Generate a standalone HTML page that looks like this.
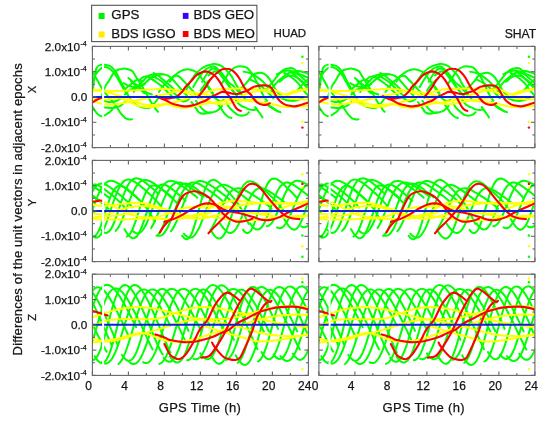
<!DOCTYPE html><html><head><meta charset="utf-8"><style>html,body{margin:0;padding:0;background:#fff;}svg{display:block}svg text{fill:#151515;stroke:#151515;stroke-width:0.25px}</style></head><body>
<svg width="550" height="423" viewBox="0 0 550 423">
<rect width="550" height="423" fill="#fff"/>
<defs>
<g id="row0">
<g fill="none" stroke="#00ff00" stroke-width="2.0" stroke-linecap="round" stroke-linejoin="round"><path d="M0.5,44.0C0.7,41.7 1.5,34.2 2.2,30.4C2.8,26.6 3.3,23.2 4.3,21.3C5.3,19.3 6.5,18.9 8.1,18.5C9.7,18.0 12.0,18.2 13.8,18.5C15.5,18.8 17.1,19.3 18.5,20.2C20.0,21.2 21.2,22.6 22.3,24.0C23.4,25.5 24.3,27.1 25.2,28.8C26.1,30.6 27.0,32.7 27.9,34.4C28.8,36.1 29.7,37.6 30.6,39.2C31.5,40.8 32.4,42.3 33.3,44.0C34.2,45.7 35.0,47.5 36.0,49.3C37.0,51.2 38.4,53.7 39.6,55.2C40.8,56.6 41.7,57.0 43.2,57.9C44.7,58.9 46.6,60.1 48.6,60.7C50.6,61.4 53.1,61.7 54.9,61.7C56.7,61.7 58.6,60.9 59.4,60.7"/><path d="M0.0,36.7C0.4,35.4 1.5,31.3 2.7,29.1C3.9,26.9 5.7,24.7 7.2,23.3C8.7,21.9 10.2,21.0 11.7,20.7C13.2,20.5 14.7,21.0 16.2,21.8C17.7,22.5 19.3,23.9 20.7,25.3C22.1,26.7 23.1,28.5 24.3,30.4C25.5,32.3 26.7,34.6 27.9,36.7C29.1,38.8 30.3,41.1 31.5,43.0C32.7,44.9 34.5,47.2 35.1,48.1"/><path d="M0.0,24.8C0.1,25.0 -0.3,24.5 0.5,26.1C1.4,27.7 3.9,31.9 5.3,34.4C6.7,36.9 7.5,38.6 9.0,41.0C10.5,43.3 12.6,46.3 14.4,48.6C16.2,50.8 18.3,52.6 19.8,54.4C21.3,56.2 22.2,57.7 23.4,59.5C24.6,61.2 26.0,63.2 27.0,64.8C28.0,66.3 28.6,67.4 29.7,68.6C30.7,69.7 32.0,71.1 33.3,71.9C34.6,72.6 36.3,72.9 37.4,73.1C38.4,73.3 39.2,72.9 39.6,72.9"/><path d="M9.0,50.6C9.6,48.9 11.5,42.9 12.8,40.2C14.0,37.5 15.3,36.5 16.6,34.4C17.8,32.3 19.1,29.6 20.4,27.8C21.7,26.1 23.1,24.9 24.3,24.0C25.5,23.2 26.4,23.1 27.9,22.8C29.4,22.5 31.6,22.0 33.6,22.3C35.5,22.6 38.3,23.8 39.6,24.5C40.9,25.3 40.5,25.5 41.4,26.8C42.3,28.2 43.9,30.9 45.0,32.6C46.1,34.4 46.8,35.3 48.0,37.2C49.2,39.1 50.7,41.8 52.2,44.3C53.7,46.8 55.5,50.0 56.7,52.1C57.9,54.2 58.5,55.5 59.4,56.9C60.3,58.4 61.4,59.6 62.1,60.7C62.9,61.8 63.3,62.7 63.9,63.5C64.5,64.3 65.4,65.0 65.7,65.3"/><path d="M0.0,60.0C0.4,60.7 1.8,63.2 2.7,64.5C3.6,65.8 4.3,66.9 5.4,67.8C6.4,68.7 7.8,69.7 9.0,69.8C10.2,70.0 11.5,69.3 12.6,68.8C13.6,68.4 14.5,67.6 15.3,67.0C16.1,66.5 16.7,66.4 17.6,65.5C18.4,64.7 19.6,63.2 20.7,62.0C21.8,60.8 23.7,58.8 24.3,58.2"/><path d="M11.7,61.0C12.8,61.1 16.1,61.5 18.0,61.5C19.9,61.5 21.8,61.3 23.4,61.0C25.1,60.6 26.4,60.3 27.9,59.5C29.4,58.6 31.6,56.3 32.4,55.7"/><path d="M11.7,54.4C12.8,54.6 15.9,55.7 18.0,55.7C20.1,55.7 22.5,55.0 24.3,54.4C26.1,53.8 28.1,52.3 28.8,51.9"/><path d="M32.4,43.0C33.1,42.4 35.4,40.5 36.9,39.2C38.4,38.0 40.0,36.4 41.4,35.4C42.8,34.5 43.6,33.5 45.0,33.4C46.4,33.3 49.0,34.7 49.9,34.9"/><path d="M41.4,45.5C42.0,44.7 43.6,42.2 45.0,40.5C46.4,38.8 48.3,37.1 49.9,35.4C51.5,33.8 53.0,31.8 54.6,30.6C56.2,29.4 57.7,28.8 59.4,28.3C61.1,27.9 62.9,27.9 64.8,27.8C66.7,27.7 68.9,27.6 70.7,27.8C72.5,28.1 74.0,28.5 75.6,29.3C77.2,30.2 78.6,31.5 80.1,32.9C81.6,34.3 82.9,36.1 84.6,38.0C86.2,39.8 88.3,42.4 90.0,44.3C91.7,46.2 93.8,48.5 94.5,49.3"/><path d="M47.7,32.9C48.6,32.4 51.2,29.9 53.1,29.9C55.0,29.8 57.4,31.5 59.4,32.6C61.3,33.7 63.3,35.3 64.8,36.4C66.3,37.5 66.9,37.9 68.4,39.2C69.9,40.5 72.0,42.6 73.8,44.3C75.6,46.0 78.3,48.5 79.2,49.3"/><path d="M54.0,30.4C54.8,30.1 56.8,28.9 58.5,29.1C60.1,29.3 62.0,30.6 63.9,31.6C65.8,32.7 68.2,34.2 69.8,35.4C71.5,36.7 72.2,37.7 73.8,39.2C75.4,40.7 77.4,42.6 79.2,44.3C81.0,46.0 83.7,48.5 84.6,49.3"/><path d="M38.7,34.9C39.5,35.6 41.7,37.9 43.2,39.2C44.7,40.6 46.2,41.7 47.7,43.0C49.2,44.3 51.5,46.2 52.2,46.8"/><path d="M32.4,48.1C33.3,47.3 35.9,44.4 37.8,43.3C39.8,42.1 41.9,42.1 44.1,41.2C46.3,40.4 48.7,39.4 50.9,38.0C53.2,36.5 55.4,33.9 57.6,32.4C59.8,30.9 62.1,29.8 63.9,29.1C65.7,28.4 67.6,28.5 68.4,28.3"/><path d="M61.2,26.6C61.9,27.0 64.2,28.0 65.7,29.1C67.2,30.1 68.7,31.6 70.2,32.9C71.7,34.2 73.2,35.4 74.7,36.7C76.2,38.0 77.7,39.1 79.2,40.5C80.7,41.9 83.0,44.3 83.7,45.0"/><path d="M31.5,36.7C32.2,37.1 34.4,38.6 36.0,39.2C37.6,39.8 39.6,40.4 41.4,40.5C43.2,40.6 45.0,40.4 46.8,40.0C48.6,39.6 51.3,38.3 52.2,38.0"/><path d="M36.0,31.6C36.8,32.3 39.0,34.2 40.5,35.4C42.0,36.7 43.5,38.0 45.0,39.2C46.5,40.5 48.0,41.9 49.5,43.0C51.0,44.1 52.4,45.2 54.0,46.0C55.6,46.9 58.5,47.7 59.4,48.1"/><path d="M66.6,45.5C67.2,44.7 68.8,42.2 70.2,40.5C71.6,38.8 73.1,37.1 74.7,35.4C76.4,33.8 78.4,32.0 80.1,30.6C81.8,29.2 83.4,27.9 85.0,26.8C86.7,25.7 88.3,24.7 90.0,24.0C91.7,23.4 93.4,22.7 95.4,22.8C97.3,22.9 99.9,23.7 101.7,24.5C103.5,25.4 104.9,26.5 106.2,27.8C107.5,29.2 108.6,31.1 109.8,32.6C111.0,34.2 112.2,35.5 113.4,37.2C114.6,38.9 115.8,41.2 117.0,43.0C118.2,44.8 120.0,47.2 120.6,48.1"/><path d="M77.4,35.4C78.0,34.6 79.6,31.3 81.0,30.4C82.4,29.4 84.3,28.9 86.0,29.6C87.6,30.3 89.5,33.0 90.9,34.4C92.3,35.8 93.2,36.8 94.5,38.2C95.8,39.6 97.5,41.4 99.0,43.0C100.5,44.7 102.8,47.2 103.5,48.1"/><path d="M92.7,45.5C93.5,44.1 95.9,39.1 97.2,36.7C98.5,34.2 99.7,32.5 100.8,30.9C101.9,29.2 102.6,28.3 104.0,26.8C105.3,25.4 107.3,23.4 108.9,22.3C110.5,21.1 111.8,20.5 113.4,19.7C115.1,19.0 117.1,18.3 118.8,18.0C120.4,17.6 121.8,17.3 123.3,17.5C124.8,17.6 126.5,18.3 127.8,19.0C129.2,19.6 130.2,20.2 131.4,21.3C132.6,22.3 133.7,23.7 135.0,25.0C136.3,26.4 137.8,27.9 139.0,29.6C140.2,31.3 141.2,33.6 142.2,35.4C143.2,37.2 143.8,38.3 144.9,40.2C146.0,42.1 147.2,44.7 148.5,46.8C149.8,49.0 152.2,52.1 153.0,53.1"/><path d="M100.8,40.5C101.7,39.0 104.7,33.9 106.2,31.6C107.7,29.3 108.6,28.0 109.8,26.6C111.0,25.1 112.2,24.0 113.4,23.0C114.6,22.1 115.6,21.5 117.0,21.0C118.3,20.5 120.1,20.0 121.5,20.2C122.9,20.5 123.9,21.3 125.1,22.3C126.3,23.2 127.5,24.7 128.7,26.1C129.9,27.5 131.1,29.1 132.3,30.6C133.5,32.2 134.6,34.0 135.9,35.4C137.2,36.9 139.1,38.0 140.4,39.2C141.8,40.5 142.8,41.6 144.0,43.0C145.2,44.4 147.0,46.8 147.6,47.6"/><path d="M113.4,36.4C114.0,37.3 115.8,40.0 117.0,41.7C118.2,43.5 120.0,46.0 120.6,46.8"/><path d="M109.8,35.4C110.7,33.9 113.5,28.8 115.2,26.6C116.9,24.4 118.2,22.8 119.7,22.3C121.2,21.7 122.9,22.5 124.2,23.3C125.6,24.1 126.6,25.6 127.8,27.1C129.0,28.5 130.2,30.2 131.4,31.9C132.6,33.5 133.8,35.3 135.0,36.9C136.2,38.6 137.4,40.4 138.6,42.0C139.8,43.6 141.0,45.1 142.2,46.6C143.4,48.0 145.2,49.9 145.8,50.6"/><path d="M116.1,29.1C117.0,28.5 119.8,25.7 121.5,25.3C123.2,24.9 124.7,25.7 126.0,26.6C127.4,27.4 128.4,29.0 129.6,30.4C130.8,31.8 132.0,33.3 133.2,34.9C134.4,36.5 135.6,38.4 136.8,40.0C138.0,41.6 139.2,43.1 140.4,44.5C141.6,46.0 143.4,47.9 144.0,48.6"/><path d="M108.0,44.3C108.6,43.4 110.4,40.7 111.6,39.2C112.8,37.7 114.0,36.6 115.2,35.4C116.4,34.3 118.2,32.9 118.8,32.4"/><path d="M128.7,38.0C129.4,36.9 131.9,33.6 133.2,31.6C134.6,29.6 135.6,27.4 136.8,25.8C138.0,24.2 139.1,23.2 140.4,22.3C141.8,21.3 143.4,20.6 144.9,20.2C146.4,19.9 147.9,19.9 149.4,20.0C150.9,20.1 152.9,20.6 153.9,21.0C154.9,21.4 154.8,21.3 155.7,22.3C156.6,23.2 158.1,25.1 159.3,26.8C160.5,28.5 161.9,30.7 162.9,32.6C164.0,34.5 164.7,36.3 165.6,38.2C166.5,40.1 167.4,42.2 168.3,44.0C169.2,45.9 170.0,47.6 171.0,49.3C172.0,51.1 174.0,53.6 174.6,54.4"/><path d="M147.6,43.0C148.3,42.3 150.8,39.9 152.1,38.5C153.4,37.0 154.5,35.9 155.7,34.4C156.9,32.9 158.1,30.8 159.3,29.6C160.5,28.4 161.6,27.9 162.9,27.3C164.3,26.8 166.0,26.3 167.4,26.3C168.8,26.3 170.1,26.6 171.5,27.3C172.8,28.0 174.4,29.4 175.5,30.6C176.6,31.8 177.3,33.0 178.2,34.4C179.1,35.8 180.0,37.6 180.9,39.2C181.8,40.8 182.5,42.5 183.6,44.0C184.7,45.5 186.2,47.0 187.2,48.1C188.3,49.2 189.5,50.2 189.9,50.6"/><path d="M173.7,43.0C174.5,42.2 176.7,39.7 178.2,38.0C179.7,36.2 181.2,34.2 182.7,32.4C184.2,30.5 185.7,28.3 187.2,26.8C188.7,25.3 190.2,24.1 191.7,23.3C193.2,22.4 194.6,21.9 196.2,21.8C197.8,21.6 199.5,21.4 201.2,22.3C202.8,23.1 204.5,25.7 206.1,26.8C207.7,28.0 209.2,28.5 210.6,29.1C211.9,29.7 213.3,30.2 214.2,30.6C215.1,31.0 215.7,31.5 216.0,31.6"/><path d="M178.2,43.0C179.0,42.2 181.2,39.8 182.7,38.2C184.2,36.6 185.7,34.8 187.2,33.4C188.7,32.0 190.2,30.7 191.7,29.6C193.2,28.5 194.6,27.6 196.2,26.8C197.8,26.1 199.5,25.4 201.2,25.0C202.8,24.7 204.5,24.5 206.1,24.5C207.7,24.6 209.2,25.2 210.6,25.6C211.9,25.9 213.3,26.4 214.2,26.8C215.1,27.2 215.7,27.7 216.0,27.8"/><path d="M191.7,26.6C192.5,26.9 194.6,27.8 196.2,28.8C197.8,29.9 199.5,31.2 201.2,32.6C202.8,34.0 204.8,35.8 206.1,37.2C207.4,38.6 207.8,39.6 208.8,41.0C209.9,42.4 211.2,44.1 212.4,45.5C213.6,46.9 215.4,48.7 216.0,49.3"/><path d="M197.1,25.3C197.8,25.7 200.1,26.6 201.6,27.8C203.1,29.0 204.6,30.9 206.1,32.4C207.6,33.9 209.2,35.3 210.6,36.7C211.9,38.1 213.3,39.9 214.2,41.0C215.1,42.0 215.7,42.7 216.0,43.0"/><path d="M99.0,55.7C99.5,56.3 101.3,58.6 102.1,59.7C103.0,60.8 103.2,61.4 104.0,62.5C104.7,63.6 105.7,65.5 106.8,66.3C108.0,67.1 109.3,67.3 110.7,67.3C112.1,67.3 114.0,66.7 115.2,66.5C116.4,66.4 116.5,66.5 117.9,66.3C119.2,66.0 121.8,65.7 123.3,65.0C124.8,64.4 125.9,63.4 126.9,62.5C128.0,61.6 129.2,60.0 129.6,59.5"/><path d="M103.5,54.4C104.1,55.1 105.8,57.3 106.8,58.7C107.9,60.0 108.7,61.4 109.8,62.5C110.9,63.6 112.4,64.6 113.4,65.3C114.4,65.9 114.9,66.2 115.6,66.3C116.4,66.4 117.5,65.9 117.9,65.8"/><path d="M126.0,58.2C126.6,59.1 128.6,62.0 129.6,63.5C130.6,65.0 131.2,66.1 132.3,67.3C133.3,68.5 134.8,69.9 135.9,70.6C137.0,71.3 138.5,71.4 139.0,71.6"/><path d="M134.1,56.9C134.6,57.7 136.1,60.1 137.2,61.5C138.4,62.9 140.0,64.1 141.3,65.3C142.6,66.4 143.6,67.6 144.9,68.3C146.2,69.0 147.9,69.3 149.4,69.3C150.9,69.3 152.7,68.9 153.9,68.3C155.1,67.7 156.2,66.2 156.6,65.8"/><path d="M143.1,53.1C143.5,53.8 144.7,55.8 145.8,56.9C146.8,58.0 148.1,58.9 149.4,59.7C150.8,60.5 152.6,61.1 153.9,61.7C155.2,62.3 156.3,63.0 157.5,63.2C158.7,63.5 160.0,63.5 161.1,63.5C162.1,63.5 163.3,63.3 163.8,63.2"/><path d="M162.9,60.7C163.4,61.4 164.7,63.2 165.6,64.5C166.5,65.8 167.6,67.2 168.3,68.3C169.1,69.4 169.8,70.6 170.1,71.1"/><path d="M172.8,55.7C173.2,56.2 174.3,57.6 175.5,58.7C176.7,59.8 178.5,61.0 180.0,62.0C181.5,63.0 183.2,63.9 184.5,64.5C185.8,65.1 187.5,65.6 188.1,65.8"/><path d="M177.3,59.7C178.0,60.2 180.5,61.6 181.8,62.5C183.2,63.4 184.8,64.6 185.4,65.0"/><path d="M82.8,50.6C83.2,50.8 83.8,51.1 85.0,51.9C86.2,52.6 88.4,54.5 90.0,54.9C91.6,55.3 93.3,54.6 94.5,54.1C95.7,53.6 96.8,52.2 97.2,51.9"/><path d="M121.5,50.6C121.8,50.9 122.2,51.4 123.3,52.1C124.3,52.8 126.5,54.6 127.8,54.9C129.2,55.2 130.8,53.8 131.4,53.6"/><path d="M189.0,51.9C189.8,52.2 192.0,53.2 193.5,53.6C195.0,54.1 196.5,54.3 198.0,54.4C199.5,54.5 201.0,54.6 202.5,54.4C204.0,54.2 205.7,53.7 207.0,53.1C208.3,52.6 210.0,51.4 210.6,51.1"/><path d="M55.8,61.7C56.4,61.4 58.2,60.5 59.4,59.5C60.6,58.4 61.8,57.1 63.0,55.7C64.2,54.2 66.0,51.4 66.6,50.6"/><path d="M203.4,45.5C204.0,44.9 205.7,43.2 207.0,41.7C208.3,40.3 210.0,38.2 211.5,36.7C213.0,35.2 215.2,33.5 216.0,32.9"/><path d="M151.2,25.3C152.2,25.5 155.4,25.8 157.5,26.6C159.6,27.3 161.7,28.5 163.8,29.9C165.9,31.2 168.1,33.1 170.1,34.9C172.1,36.7 173.8,38.7 175.5,40.5C177.2,42.3 178.7,43.9 180.0,45.5C181.3,47.2 183.0,49.8 183.6,50.6"/><path d="M157.5,32.9C158.7,33.5 162.5,35.2 164.7,36.7C167.0,38.2 169.1,40.1 171.0,41.7C172.9,43.4 174.8,45.1 176.4,46.8C178.1,48.5 180.2,51.0 180.9,51.9"/><path d="M184.5,27.8C185.4,27.4 188.1,25.9 189.9,25.3C191.7,24.7 193.5,24.0 195.3,24.0C197.1,24.0 198.9,24.6 200.7,25.3C202.5,26.0 204.3,27.1 206.1,28.3C207.9,29.6 209.8,31.5 211.5,32.9C213.2,34.3 215.2,36.1 216.0,36.7"/><path d="M187.2,35.4C188.1,34.7 190.8,31.9 192.6,30.9C194.4,29.8 196.2,29.2 198.0,29.1C199.8,29.0 201.6,29.5 203.4,30.4C205.2,31.2 207.0,32.7 208.8,34.2C210.6,35.6 213.0,38.2 214.2,39.2C215.4,40.3 215.7,40.3 216.0,40.5"/></g>
<g fill="none" stroke="#ffff00" stroke-width="2.0" stroke-linecap="round" stroke-linejoin="round"><path d="M0.0,43.0C2.0,43.3 8.6,44.1 11.7,44.8C14.8,45.4 16.3,46.2 18.4,46.8C20.5,47.4 22.3,47.9 24.3,48.6C26.3,49.2 28.4,49.8 30.6,50.6C32.8,51.4 34.9,52.1 37.6,53.1C40.3,54.2 43.6,56.0 46.8,56.9C50.0,57.9 53.6,58.5 56.7,58.7C59.9,58.9 62.2,58.5 65.7,58.2C69.1,57.9 73.4,57.7 77.4,56.9C81.5,56.2 86.4,54.7 90.0,53.6C93.6,52.6 96.0,51.6 99.0,50.6C102.0,49.6 104.2,48.7 108.0,47.6C111.8,46.4 117.0,44.4 121.5,43.5C126.0,42.6 129.8,42.5 135.0,42.3C140.2,42.0 147.8,42.0 153.0,42.3C158.2,42.5 162.8,43.0 166.5,43.5C170.2,44.1 172.5,44.7 175.5,45.5C178.5,46.4 181.5,47.6 184.5,48.6C187.5,49.5 190.5,50.4 193.5,51.1C196.5,51.8 198.8,52.3 202.5,52.6C206.2,53.0 213.8,53.0 216.0,53.1"/><path d="M0.0,44.3C3.0,44.3 12.8,44.5 18.0,44.5C23.2,44.5 27.3,44.4 31.5,44.3C35.7,44.1 39.8,43.9 43.2,43.8C46.6,43.6 48.8,43.4 51.8,43.3C54.8,43.1 58.0,42.9 61.2,42.8C64.4,42.6 68.3,42.3 70.7,42.3C73.1,42.3 73.2,42.5 75.6,42.8C78.0,43.0 81.9,43.1 85.0,43.8C88.2,44.4 91.3,45.5 94.5,46.6C97.7,47.6 100.8,49.1 104.0,50.3C107.1,51.6 110.2,53.0 113.4,54.1C116.6,55.3 120.2,56.6 123.3,57.2C126.4,57.8 129.1,57.9 132.3,57.7C135.4,57.5 138.6,56.6 142.2,55.9C145.8,55.2 149.8,54.3 153.9,53.6C158.0,53.0 162.4,52.4 166.5,51.9C170.6,51.4 174.3,50.7 178.2,50.6C182.1,50.5 186.9,51.5 189.9,51.1C192.9,50.7 193.8,49.3 196.2,48.3C198.6,47.4 201.9,46.3 204.3,45.5C206.7,44.8 208.6,44.2 210.6,43.8C212.6,43.3 215.1,42.9 216.0,42.8"/><path d="M0.0,54.4C0.9,54.7 3.6,55.6 5.4,56.2C7.2,56.7 8.6,57.3 10.8,57.7C13.0,58.1 15.6,58.5 18.4,58.4C21.3,58.4 24.4,57.7 27.9,57.2C31.4,56.6 35.2,56.0 39.6,55.2C44.0,54.3 49.8,52.8 54.0,51.9C58.2,50.9 61.2,50.1 64.8,49.3C68.4,48.6 72.9,48.2 75.6,47.6C78.3,46.9 78.6,46.0 81.0,45.5C83.4,45.0 87.0,44.5 90.0,44.5C93.0,44.5 94.5,44.7 99.0,45.5C103.5,46.3 111.7,48.4 117.0,49.3C122.2,50.3 126.3,50.6 130.5,51.1C134.7,51.6 138.3,51.6 142.2,52.1C146.1,52.7 149.8,53.8 153.9,54.4C158.0,55.0 162.6,55.2 166.5,55.7C170.4,56.1 173.8,56.3 177.3,56.9C180.8,57.6 184.1,59.1 187.2,59.7C190.4,60.3 193.0,60.6 196.2,60.7C199.3,60.8 202.8,60.5 206.1,60.2C209.4,60.0 214.3,59.4 216.0,59.2"/><path d="M0.0,51.9C2.2,52.1 8.8,53.1 13.5,53.1C18.1,53.1 23.9,51.4 27.9,51.9C31.9,52.3 34.5,54.6 37.6,55.9C40.8,57.2 43.3,58.9 46.8,59.7C50.3,60.5 55.0,60.8 58.5,60.7C61.9,60.7 64.6,59.9 67.5,59.5C70.4,59.0 72.7,57.7 75.6,57.9C78.5,58.1 81.9,60.2 85.0,60.7C88.2,61.3 91.3,61.5 94.5,61.2C97.7,61.0 100.4,59.9 104.0,59.2C107.5,58.5 112.0,57.5 115.6,56.9C119.3,56.3 122.0,56.3 126.0,55.7C130.0,55.0 135.0,54.4 139.5,53.1C144.0,51.9 148.5,49.5 153.0,48.1C157.5,46.6 162.0,45.1 166.5,44.3C171.0,43.4 175.8,42.4 180.0,43.0C184.2,43.6 188.2,47.5 191.7,47.8C195.2,48.1 198.0,45.6 201.2,44.8C204.3,44.0 208.1,43.5 210.6,43.0C213.1,42.5 215.1,42.2 216.0,42.0"/></g>
<g fill="none" stroke="#ff0000" stroke-width="2.1" stroke-linecap="round" stroke-linejoin="round"><path d="M0.0,55.9C0.8,55.5 2.8,54.3 4.5,53.4C6.2,52.5 9.4,51.1 10.3,50.6"/><path d="M72.0,52.6C72.6,52.5 74.2,52.3 75.6,52.1C77.0,51.9 78.7,51.7 80.1,51.4C81.5,51.1 83.0,50.9 84.2,50.3C85.3,49.8 86.0,49.0 86.9,48.1C87.9,47.2 89.0,46.2 90.0,45.0C91.0,43.9 91.4,42.6 92.7,41.0C94.0,39.4 96.2,37.4 98.1,35.4C100.0,33.4 102.2,30.4 104.0,28.8C105.8,27.3 107.3,26.7 108.9,26.1C110.5,25.4 111.9,25.0 113.4,25.0C114.9,25.1 116.4,25.7 117.9,26.3C119.4,26.9 120.8,27.7 122.1,28.8C123.5,30.0 124.8,31.7 126.0,33.4C127.2,35.1 128.6,37.4 129.6,39.2C130.6,41.0 131.0,42.2 132.3,44.0C133.6,45.9 135.9,48.4 137.2,50.3C138.6,52.3 139.4,54.2 140.4,55.9C141.4,57.6 142.2,59.5 143.1,60.7C144.0,62.0 144.9,62.9 145.8,63.5C146.7,64.1 148.1,64.3 148.5,64.5"/><path d="M105.3,51.1C105.9,50.3 107.5,48.3 108.9,46.6C110.2,44.8 112.1,42.5 113.4,40.5C114.8,38.5 115.7,36.2 117.0,34.4C118.3,32.6 119.9,31.0 121.2,29.6C122.6,28.2 123.7,27.2 125.1,26.1C126.5,25.0 128.1,23.7 129.6,23.0C131.1,22.4 132.5,22.2 134.1,22.3C135.7,22.3 137.5,22.8 139.0,23.5C140.5,24.3 141.8,25.5 143.1,26.8C144.4,28.2 145.5,29.7 146.7,31.6C147.9,33.5 149.1,36.1 150.3,38.2C151.5,40.3 152.6,42.4 153.9,44.0C155.2,45.7 157.2,46.7 158.4,48.1C159.6,49.4 160.0,50.8 161.1,52.1C162.1,53.4 163.4,54.9 164.7,55.9C166.1,56.9 167.6,57.8 169.2,58.2C170.8,58.6 173.2,58.4 174.6,58.2C175.9,58.0 176.8,57.1 177.3,56.9"/><path d="M63.9,49.8C64.7,50.2 67.2,51.4 68.9,52.1C70.5,52.8 71.9,53.3 73.8,54.1C75.7,55.0 78.2,56.7 80.1,57.4C82.0,58.2 83.4,58.3 85.0,58.7C86.7,59.1 88.4,59.5 90.0,59.7C91.6,59.9 93.0,60.0 94.5,60.0C96.0,59.9 97.4,59.5 99.0,59.2C100.6,58.9 102.3,58.5 104.0,57.9C105.6,57.4 107.3,56.5 108.9,55.9C110.5,55.3 111.7,55.1 113.4,54.1C115.1,53.2 117.3,51.4 119.3,50.3C121.2,49.3 123.4,48.4 125.1,47.6C126.8,46.8 127.9,45.8 129.6,45.5C131.2,45.3 133.2,45.8 135.0,46.0C136.8,46.3 138.8,47.1 140.4,47.3C142.1,47.6 143.4,47.8 144.9,47.6C146.4,47.4 147.8,46.6 149.4,46.0C151.1,45.5 153.5,44.8 154.8,44.3C156.2,43.7 156.5,43.4 157.5,42.8C158.5,42.1 159.7,41.0 161.1,40.5C162.4,39.9 164.1,39.7 165.6,39.5C167.1,39.2 168.3,39.0 170.1,39.0C171.9,39.0 174.8,38.8 176.4,39.5C178.1,40.1 178.8,41.4 180.0,43.0C181.2,44.7 182.4,47.4 183.6,49.3C184.8,51.2 185.9,53.0 187.2,54.4C188.6,55.8 190.2,56.9 191.7,57.7C193.2,58.5 194.6,58.8 196.2,59.2C197.8,59.6 199.5,60.0 201.2,60.0C202.8,60.0 204.5,59.5 206.1,59.2C207.7,58.9 208.9,58.4 210.6,57.9C212.2,57.4 215.1,56.5 216.0,56.2"/></g>
<line x1="0" y1="50.60" x2="216.00" y2="50.60" stroke="#1020e0" stroke-width="2.0"/>
<rect x="9.72" y="0" width="1.98" height="101.20" fill="#fff"/>
<circle cx="210.0" cy="10.4" r="1.2" fill="#00ff00"/>
<circle cx="210.0" cy="16.7" r="1.2" fill="#ffff00"/>
<circle cx="210.0" cy="75.4" r="1.2" fill="#ffff00"/>
<circle cx="210.0" cy="81.2" r="1.2" fill="#ff0000"/>
</g>
<g id="row1">
<g fill="none" stroke="#00ff00" stroke-width="2.0" stroke-linecap="round" stroke-linejoin="round"><path d=""/><path d=""/><path d="M-1.8,47.0C-1.5,47.4 -0.6,48.5 0.0,49.3C0.6,50.1 1.5,51.4 1.8,51.8"/><path d="M-2.0,34.0C-1.7,34.2 -0.8,34.8 -0.2,35.2C0.4,35.6 1.0,36.0 1.6,36.4C2.2,36.8 2.8,37.2 3.4,37.6C4.0,38.0 4.6,38.4 5.2,38.9C5.8,39.3 6.4,39.8 7.0,40.2C7.6,40.7 8.2,41.2 8.8,41.7C9.4,42.2 10.0,42.7 10.6,43.2C11.2,43.7 11.8,44.3 12.4,44.8C13.0,45.4 13.6,46.0 14.2,46.6C14.8,47.2 15.7,48.1 16.0,48.5"/><path d="M-1.0,34.5C-0.7,34.7 0.2,35.4 0.8,35.8C1.4,36.2 2.0,36.7 2.6,37.1C3.2,37.6 3.8,38.0 4.4,38.5C5.0,39.0 5.6,39.4 6.2,39.9C6.8,40.4 7.4,40.9 8.0,41.4C8.6,41.9 9.2,42.4 9.8,42.9C10.4,43.4 11.3,44.3 11.6,44.5"/><path d="M-2.7,24.7C-2.4,24.8 -1.5,25.1 -0.9,25.4C-0.3,25.6 0.3,25.9 0.9,26.3C1.5,26.6 2.1,27.0 2.7,27.3C3.3,27.7 3.9,28.1 4.5,28.5C5.1,28.9 5.7,29.3 6.3,29.7C6.9,30.1 7.5,30.6 8.1,31.0C8.7,31.4 9.3,31.8 9.9,32.3C10.5,32.7 11.1,33.1 11.7,33.6C12.3,34.0 12.9,34.5 13.5,34.9C14.1,35.4 14.7,35.8 15.3,36.3C15.9,36.7 16.8,37.4 17.1,37.7"/><path d="M-1.8,25.0C-1.5,24.9 -0.6,24.4 -0.0,24.2C0.6,24.0 1.2,24.0 1.8,24.0C2.4,24.0 3.0,24.1 3.6,24.2C4.2,24.3 4.8,24.6 5.4,24.8C6.0,25.1 6.6,25.4 7.2,25.7C7.8,26.0 8.4,26.4 9.0,26.8C9.6,27.2 10.2,27.6 10.8,28.0C11.4,28.5 12.0,28.9 12.6,29.3C13.2,29.8 13.8,30.2 14.4,30.7C15.0,31.1 15.6,31.6 16.2,32.1C16.8,32.5 17.4,33.0 18.0,33.5C18.6,33.9 19.2,34.4 19.8,34.9C20.4,35.4 21.0,35.9 21.6,36.3C22.2,36.8 22.8,37.3 23.4,37.9C24.0,38.4 24.6,38.9 25.2,39.5C25.8,40.0 26.4,40.6 27.0,41.2C27.6,41.8 28.2,42.4 28.8,43.0C29.4,43.7 30.0,44.4 30.6,45.1C31.2,45.8 32.1,46.9 32.4,47.2"/><path d="M-1.5,34.4C-1.2,33.8 -0.3,31.9 0.3,30.8C0.9,29.6 1.5,28.6 2.1,27.8C2.7,26.9 3.3,26.2 3.9,25.6C4.5,25.0 5.1,24.5 5.7,24.1C6.3,23.7 6.9,23.5 7.5,23.3C8.1,23.2 8.7,23.1 9.3,23.1C9.9,23.1 10.5,23.2 11.1,23.4C11.7,23.6 12.3,23.8 12.9,24.1C13.5,24.3 14.1,24.6 14.7,25.0C15.3,25.3 15.9,25.7 16.5,26.1C17.1,26.5 17.7,26.9 18.3,27.4C18.9,27.8 19.5,28.2 20.1,28.7C20.7,29.1 21.3,29.6 21.9,30.0C22.5,30.5 23.1,31.0 23.7,31.4C24.3,31.9 24.9,32.4 25.5,32.8C26.1,33.3 26.7,33.8 27.3,34.3C27.9,34.8 28.5,35.3 29.1,35.8C29.7,36.3 30.3,36.8 30.9,37.3C31.5,37.8 32.1,38.4 32.7,39.0C33.3,39.5 33.9,40.1 34.5,40.7C35.1,41.3 35.7,42.0 36.3,42.6C36.9,43.3 37.5,44.0 38.1,44.7C38.7,45.5 39.6,46.6 39.9,47.0"/><path d="M-1.2,52.7C-0.9,51.8 -0.0,49.3 0.6,47.6C1.2,45.9 1.8,44.3 2.4,42.7C3.0,41.1 3.6,39.5 4.2,38.0C4.8,36.5 5.4,35.1 6.0,33.8C6.6,32.4 7.2,31.2 7.8,30.1C8.4,28.9 9.0,27.9 9.6,26.9C10.2,26.0 10.8,25.2 11.4,24.5C12.0,23.7 12.6,23.1 13.2,22.6C13.8,22.1 14.4,21.7 15.0,21.4C15.6,21.0 16.2,20.8 16.8,20.6C17.4,20.5 18.0,20.4 18.6,20.4C19.2,20.4 19.8,20.5 20.4,20.6C21.0,20.7 21.6,20.9 22.2,21.2C22.8,21.4 23.4,21.7 24.0,22.0C24.6,22.3 25.2,22.6 25.8,23.0C26.4,23.3 27.0,23.7 27.6,24.1C28.2,24.5 28.8,24.9 29.4,25.4C30.0,25.8 30.6,26.2 31.2,26.7C31.8,27.1 32.4,27.6 33.0,28.0C33.6,28.5 34.2,29.0 34.8,29.4C35.4,29.9 36.0,30.4 36.6,30.8C37.2,31.3 37.8,31.8 38.4,32.3C39.0,32.7 39.6,33.2 40.2,33.7C40.8,34.2 41.4,34.7 42.0,35.2C42.6,35.7 43.2,36.2 43.8,36.7C44.4,37.2 45.0,37.8 45.6,38.3C46.2,38.9 47.1,39.7 47.4,40.0"/><path d="M-2.4,74.2C-2.1,74.5 -1.2,75.3 -0.6,75.6C-0.0,75.9 0.6,76.0 1.2,76.0C1.8,75.9 2.4,75.6 3.0,75.2C3.6,74.7 4.2,74.0 4.8,73.1C5.4,72.2 6.0,71.1 6.6,69.9C7.2,68.6 7.8,67.1 8.4,65.6C9.0,64.0 9.6,62.2 10.2,60.4C10.8,58.6 11.4,56.7 12.0,54.8C12.6,52.9 13.2,50.9 13.8,49.0C14.4,47.1 15.0,45.2 15.6,43.4C16.2,41.6 16.8,39.9 17.4,38.3C18.0,36.7 18.6,35.3 19.2,34.0C19.8,32.6 20.4,31.5 21.0,30.5C21.6,29.5 22.2,28.6 22.8,27.9C23.4,27.2 24.0,26.7 24.6,26.3C25.2,25.8 25.8,25.6 26.4,25.4C27.0,25.3 27.6,25.3 28.2,25.3C28.8,25.4 29.4,25.5 30.0,25.8C30.6,26.0 31.2,26.3 31.8,26.6C32.4,27.0 33.0,27.4 33.6,27.8C34.2,28.2 34.8,28.7 35.4,29.2C36.0,29.7 36.6,30.2 37.2,30.7C37.8,31.2 38.4,31.7 39.0,32.2C39.6,32.8 40.2,33.3 40.8,33.8C41.4,34.4 42.0,34.9 42.6,35.5C43.2,36.0 43.8,36.6 44.4,37.1C45.0,37.7 45.6,38.2 46.2,38.8C46.8,39.4 47.4,40.0 48.0,40.6C48.6,41.2 49.2,41.9 49.8,42.5C50.4,43.2 51.0,43.8 51.6,44.6C52.2,45.3 52.8,46.0 53.4,46.8C54.0,47.6 54.6,48.4 55.2,49.3C55.8,50.1 56.4,51.0 57.0,51.9C57.6,52.9 58.2,53.9 58.8,54.9C59.4,55.9 60.0,56.9 60.6,58.0C61.2,59.1 62.1,60.7 62.4,61.3"/><path d="M1.7,76.7C2.0,76.8 2.9,77.2 3.5,77.3C4.1,77.3 4.7,77.3 5.3,77.0C5.9,76.7 6.5,76.3 7.1,75.7C7.7,75.2 8.3,74.4 8.9,73.5C9.5,72.6 10.1,71.5 10.7,70.3C11.3,69.1 11.9,67.8 12.5,66.3C13.1,64.8 13.7,63.2 14.3,61.6C14.9,59.9 15.5,58.2 16.1,56.4C16.7,54.6 17.3,52.7 17.9,50.9C18.5,49.1 19.1,47.2 19.7,45.4C20.3,43.6 20.9,41.8 21.5,40.1C22.1,38.4 22.7,36.7 23.3,35.2C23.9,33.6 24.5,32.1 25.1,30.8C25.7,29.4 26.3,28.2 26.9,27.1C27.5,26.0 28.1,25.0 28.7,24.1C29.3,23.2 29.9,22.5 30.5,21.9C31.1,21.2 31.7,20.7 32.3,20.3C32.9,20.0 33.5,19.7 34.1,19.5C34.7,19.3 35.3,19.2 35.9,19.2C36.5,19.2 37.1,19.3 37.7,19.4C38.3,19.5 38.9,19.8 39.5,20.0C40.1,20.3 40.7,20.6 41.3,20.9C41.9,21.2 42.5,21.6 43.1,22.0C43.7,22.4 44.3,22.9 44.9,23.3C45.5,23.8 46.1,24.3 46.7,24.7C47.3,25.2 47.9,25.7 48.5,26.2C49.1,26.7 49.7,27.2 50.3,27.7C50.9,28.2 51.5,28.7 52.1,29.2C52.7,29.7 53.3,30.3 53.9,30.8C54.5,31.3 55.1,31.8 55.7,32.3C56.3,32.9 56.9,33.4 57.5,34.0C58.1,34.5 58.7,35.1 59.3,35.6C59.9,36.2 60.5,36.8 61.1,37.4C61.7,38.0 62.3,38.6 62.9,39.2C63.5,39.8 64.1,40.5 64.7,41.2C65.3,41.8 65.9,42.5 66.5,43.3C67.1,44.0 68.0,45.2 68.3,45.5"/><path d="M8.5,69.2C8.8,69.5 9.7,70.6 10.3,71.1C10.9,71.6 11.5,72.0 12.1,72.2C12.7,72.5 13.3,72.6 13.9,72.5C14.5,72.4 15.1,72.2 15.7,71.8C16.3,71.4 16.9,70.8 17.5,70.1C18.1,69.3 18.7,68.4 19.3,67.3C19.9,66.2 20.5,65.0 21.1,63.6C21.7,62.2 22.3,60.7 22.9,59.1C23.5,57.5 24.1,55.8 24.7,54.0C25.3,52.3 25.9,50.4 26.5,48.6C27.1,46.8 27.7,44.9 28.3,43.1C28.9,41.3 29.5,39.5 30.1,37.8C30.7,36.1 31.3,34.4 31.9,32.8C32.5,31.3 33.1,29.8 33.7,28.5C34.3,27.2 34.9,26.0 35.5,24.9C36.1,23.8 36.7,22.9 37.3,22.0C37.9,21.2 38.5,20.5 39.1,20.0C39.7,19.4 40.3,19.0 40.9,18.6C41.5,18.3 42.1,18.1 42.7,18.0C43.3,17.9 43.9,17.8 44.5,17.9C45.1,17.9 45.7,18.1 46.3,18.3C46.9,18.5 47.5,18.8 48.1,19.1C48.7,19.4 49.3,19.7 49.9,20.1C50.5,20.5 51.1,20.9 51.7,21.3C52.3,21.8 52.9,22.2 53.5,22.7C54.1,23.2 54.7,23.7 55.3,24.1C55.9,24.6 56.5,25.1 57.1,25.6C57.7,26.1 58.3,26.7 58.9,27.2C59.5,27.7 60.1,28.2 60.7,28.7C61.3,29.2 61.9,29.7 62.5,30.3C63.1,30.8 63.7,31.3 64.3,31.9C64.9,32.4 65.8,33.3 66.1,33.5"/><path d="M23.2,70.5C23.5,70.1 24.4,69.2 25.0,68.4C25.6,67.6 26.2,66.6 26.8,65.5C27.4,64.5 28.0,63.3 28.6,62.0C29.2,60.7 29.8,59.3 30.4,57.8C31.0,56.4 31.6,54.8 32.2,53.3C32.8,51.7 33.4,50.1 34.0,48.5C34.6,46.8 35.2,45.2 35.8,43.6C36.4,42.0 37.0,40.4 37.6,38.9C38.2,37.4 38.8,36.0 39.4,34.6C40.0,33.2 40.6,31.9 41.2,30.7C41.8,29.5 42.4,28.3 43.0,27.3C43.6,26.3 44.2,25.4 44.8,24.6C45.4,23.8 46.0,23.1 46.6,22.4C47.2,21.8 47.8,21.4 48.4,20.9C49.0,20.5 49.6,20.2 50.2,20.0C50.8,19.8 51.4,19.7 52.0,19.6C52.6,19.5 53.2,19.6 53.8,19.6C54.4,19.7 55.0,19.9 55.6,20.0C56.2,20.2 56.8,20.5 57.4,20.7C58.0,21.0 58.6,21.3 59.2,21.6C59.8,22.0 60.4,22.3 61.0,22.7C61.6,23.1 62.2,23.5 62.8,23.9C63.4,24.3 64.0,24.7 64.6,25.1C65.2,25.6 65.8,26.0 66.4,26.4C67.0,26.9 67.6,27.3 68.2,27.8C68.8,28.2 69.4,28.7 70.0,29.1C70.6,29.6 71.2,30.0 71.8,30.5C72.4,30.9 73.0,31.4 73.6,31.9C74.2,32.3 74.8,32.8 75.4,33.3C76.0,33.8 76.6,34.2 77.2,34.7C77.8,35.2 78.4,35.8 79.0,36.3C79.6,36.8 80.5,37.6 80.8,37.9"/><path d="M34.4,76.1C34.7,75.9 35.6,75.6 36.2,75.0C36.8,74.5 37.4,73.7 38.0,72.8C38.6,71.9 39.2,70.7 39.8,69.5C40.4,68.2 41.0,66.7 41.6,65.2C42.2,63.6 42.8,61.9 43.4,60.2C44.0,58.4 44.6,56.5 45.2,54.7C45.8,52.8 46.4,50.9 47.0,49.1C47.6,47.2 48.2,45.4 48.8,43.6C49.4,41.9 50.0,40.2 50.6,38.6C51.2,37.1 51.8,35.6 52.4,34.3C53.0,33.0 53.6,31.8 54.2,30.8C54.8,29.8 55.4,28.9 56.0,28.2C56.6,27.4 57.2,26.9 57.8,26.4C58.4,25.9 59.0,25.6 59.6,25.4C60.2,25.2 60.8,25.1 61.4,25.1C62.0,25.1 62.6,25.2 63.2,25.4C63.8,25.5 64.4,25.8 65.0,26.1C65.6,26.4 66.2,26.7 66.8,27.1C67.4,27.5 68.0,27.9 68.6,28.4C69.2,28.8 69.8,29.3 70.4,29.8C71.0,30.2 71.6,30.7 72.2,31.2C72.8,31.7 73.4,32.3 74.0,32.8C74.6,33.3 75.2,33.8 75.8,34.3C76.4,34.9 77.0,35.4 77.6,35.9C78.2,36.5 78.8,37.0 79.4,37.5C80.0,38.1 80.6,38.6 81.2,39.2C81.8,39.8 82.4,40.4 83.0,41.0C83.6,41.6 84.5,42.5 84.8,42.8"/><path d="M32.0,68.7C32.3,69.2 33.2,70.7 33.8,71.6C34.4,72.5 35.0,73.4 35.6,74.1C36.2,74.9 36.8,75.6 37.4,76.1C38.0,76.7 38.6,77.1 39.2,77.4C39.8,77.7 40.4,77.8 41.0,77.8C41.6,77.8 42.2,77.6 42.8,77.2C43.4,76.9 44.0,76.3 44.6,75.6C45.2,74.9 45.8,74.0 46.4,72.9C47.0,71.9 47.6,70.6 48.2,69.2C48.8,67.9 49.4,66.4 50.0,64.8C50.6,63.2 51.2,61.4 51.8,59.7C52.4,57.9 53.0,56.0 53.6,54.2C54.2,52.4 54.8,50.5 55.4,48.7C56.0,46.9 56.6,45.1 57.2,43.4C57.8,41.6 58.4,40.0 59.0,38.5C59.6,36.9 60.2,35.5 60.8,34.2C61.4,32.9 62.0,31.7 62.6,30.6C63.2,29.6 63.8,28.7 64.4,27.9C65.0,27.1 65.6,26.4 66.2,25.9C66.8,25.4 67.4,25.0 68.0,24.7C68.6,24.4 69.2,24.3 69.8,24.2C70.4,24.1 71.0,24.2 71.6,24.2C72.2,24.3 72.8,24.5 73.4,24.7C74.0,25.0 74.6,25.3 75.2,25.6C75.8,25.9 76.4,26.3 77.0,26.7C77.6,27.1 78.2,27.6 78.8,28.0C79.4,28.5 80.0,28.9 80.6,29.4C81.2,29.9 81.8,30.4 82.4,30.9C83.0,31.4 83.6,31.9 84.2,32.4C84.8,32.9 85.4,33.4 86.0,33.9C86.6,34.5 87.2,35.0 87.8,35.5C88.4,36.0 89.0,36.6 89.6,37.1C90.2,37.6 90.8,38.2 91.4,38.7C92.0,39.3 92.9,40.2 93.2,40.5"/><path d="M40.0,70.1C40.3,70.4 41.2,71.3 41.8,71.7C42.4,72.1 43.0,72.5 43.6,72.7C44.2,72.9 44.8,73.0 45.4,73.0C46.0,73.0 46.6,72.8 47.2,72.5C47.8,72.2 48.4,71.8 49.0,71.2C49.6,70.6 50.2,69.9 50.8,69.1C51.4,68.2 52.0,67.3 52.6,66.2C53.2,65.1 53.8,63.9 54.4,62.6C55.0,61.3 55.6,59.8 56.2,58.4C56.8,56.9 57.4,55.3 58.0,53.8C58.6,52.2 59.2,50.6 59.8,49.0C60.4,47.4 61.0,45.7 61.6,44.1C62.2,42.6 62.8,41.0 63.4,39.5C64.0,38.0 64.6,36.5 65.2,35.1C65.8,33.8 66.4,32.5 67.0,31.3C67.6,30.1 68.2,29.0 68.8,28.0C69.4,27.0 70.0,26.0 70.6,25.3C71.2,24.5 71.8,23.8 72.4,23.2C73.0,22.6 73.6,22.1 74.2,21.7C74.8,21.3 75.4,21.0 76.0,20.8C76.6,20.6 77.2,20.5 77.8,20.5C78.4,20.4 79.0,20.4 79.6,20.5C80.2,20.6 80.8,20.8 81.4,20.9C82.0,21.1 82.6,21.4 83.2,21.6C83.8,21.9 84.4,22.2 85.0,22.6C85.6,22.9 86.2,23.3 86.8,23.7C87.4,24.0 88.0,24.4 88.6,24.8C89.2,25.2 89.8,25.7 90.4,26.1C91.0,26.5 91.6,27.0 92.2,27.4C92.8,27.8 93.4,28.3 94.0,28.7C94.6,29.2 95.2,29.6 95.8,30.1C96.4,30.5 97.0,31.0 97.6,31.4C98.2,31.9 98.8,32.4 99.4,32.8C100.0,33.3 100.6,33.8 101.2,34.3C101.8,34.7 102.4,35.2 103.0,35.7C103.6,36.2 104.5,37.0 104.8,37.3"/><path d="M58.7,67.7C59.0,67.2 59.9,65.7 60.5,64.6C61.1,63.4 61.7,62.2 62.3,60.9C62.9,59.6 63.5,58.2 64.1,56.8C64.7,55.4 65.3,53.9 65.9,52.4C66.5,50.9 67.1,49.3 67.7,47.8C68.3,46.3 68.9,44.8 69.5,43.4C70.1,41.9 70.7,40.5 71.3,39.1C71.9,37.7 72.5,36.4 73.1,35.2C73.7,33.9 74.3,32.8 74.9,31.7C75.5,30.6 76.1,29.6 76.7,28.7C77.3,27.8 77.9,27.0 78.5,26.3C79.1,25.6 79.7,25.0 80.3,24.5C80.9,24.0 81.5,23.6 82.1,23.2C82.7,22.9 83.3,22.6 83.9,22.5C84.5,22.3 85.1,22.2 85.7,22.1C86.3,22.1 86.9,22.1 87.5,22.2C88.1,22.3 88.7,22.4 89.3,22.6C89.9,22.8 90.5,23.0 91.1,23.3C91.7,23.5 92.3,23.8 92.9,24.1C93.5,24.4 94.1,24.8 94.7,25.1C95.3,25.5 95.9,25.9 96.5,26.2C97.1,26.6 97.7,27.0 98.3,27.4C98.9,27.8 99.5,28.2 100.1,28.6C100.7,29.0 101.3,29.4 101.9,29.9C102.5,30.3 103.1,30.7 103.7,31.1C104.3,31.5 104.9,32.0 105.5,32.4C106.1,32.8 106.7,33.2 107.3,33.7C107.9,34.1 108.5,34.5 109.1,35.0C109.7,35.4 110.6,36.1 110.9,36.4"/><path d="M64.1,75.4C64.4,75.2 65.3,74.6 65.9,73.9C66.5,73.2 67.1,72.4 67.7,71.4C68.3,70.5 68.9,69.4 69.5,68.1C70.1,66.9 70.7,65.5 71.3,64.0C71.9,62.6 72.5,61.0 73.1,59.4C73.7,57.8 74.3,56.1 74.9,54.4C75.5,52.7 76.1,50.9 76.7,49.2C77.3,47.5 77.9,45.8 78.5,44.2C79.1,42.5 79.7,40.9 80.3,39.4C80.9,37.9 81.5,36.4 82.1,35.1C82.7,33.8 83.3,32.5 83.9,31.4C84.5,30.3 85.1,29.3 85.7,28.4C86.3,27.6 86.9,26.8 87.5,26.1C88.1,25.5 88.7,25.0 89.3,24.6C89.9,24.1 90.5,23.8 91.1,23.6C91.7,23.4 92.3,23.3 92.9,23.2C93.5,23.2 94.1,23.3 94.7,23.4C95.3,23.5 95.9,23.7 96.5,23.9C97.1,24.1 97.7,24.4 98.3,24.7C98.9,25.0 99.5,25.4 100.1,25.7C100.7,26.1 101.3,26.5 101.9,26.9C102.5,27.3 103.1,27.8 103.7,28.2C104.3,28.7 104.9,29.1 105.5,29.6C106.1,30.1 106.7,30.5 107.3,31.0C107.9,31.5 108.5,32.0 109.1,32.4C109.7,32.9 110.3,33.4 110.9,33.9C111.5,34.4 112.1,34.9 112.7,35.3C113.3,35.8 114.2,36.6 114.5,36.9"/><path d="M65.4,75.2C65.7,75.2 66.6,75.4 67.2,75.4C67.8,75.3 68.4,75.2 69.0,74.9C69.6,74.6 70.2,74.1 70.8,73.6C71.4,73.0 72.0,72.3 72.6,71.5C73.2,70.6 73.8,69.7 74.4,68.6C75.0,67.6 75.6,66.4 76.2,65.1C76.8,63.8 77.4,62.5 78.0,61.0C78.6,59.6 79.2,58.1 79.8,56.6C80.4,55.0 81.0,53.4 81.6,51.9C82.2,50.3 82.8,48.7 83.4,47.1C84.0,45.5 84.6,44.0 85.2,42.5C85.8,41.0 86.4,39.5 87.0,38.1C87.6,36.7 88.2,35.4 88.8,34.2C89.4,32.9 90.0,31.8 90.6,30.7C91.2,29.7 91.8,28.7 92.4,27.9C93.0,27.0 93.6,26.2 94.2,25.6C94.8,24.9 95.4,24.4 96.0,23.9C96.6,23.4 97.2,23.1 97.8,22.8C98.4,22.5 99.0,22.3 99.6,22.2C100.2,22.1 100.8,22.0 101.4,22.0C102.0,22.0 102.6,22.1 103.2,22.3C103.8,22.4 104.4,22.6 105.0,22.8C105.6,23.0 106.2,23.3 106.8,23.6C107.4,23.9 108.0,24.2 108.6,24.6C109.2,24.9 109.8,25.3 110.4,25.7C111.0,26.0 111.6,26.4 112.2,26.9C112.8,27.3 113.4,27.7 114.0,28.1C114.6,28.5 115.2,29.0 115.8,29.4C116.4,29.8 117.0,30.3 117.6,30.7C118.2,31.1 118.8,31.6 119.4,32.0C120.0,32.5 120.6,32.9 121.2,33.4C121.8,33.8 122.4,34.3 123.0,34.7C123.6,35.2 124.2,35.7 124.8,36.1C125.4,36.6 126.0,37.1 126.6,37.6C127.2,38.1 127.8,38.6 128.4,39.1C129.0,39.6 129.6,40.2 130.2,40.7C130.8,41.3 131.7,42.1 132.0,42.4"/><path d="M78.4,70.9C78.7,70.5 79.6,69.5 80.2,68.5C80.8,67.6 81.4,66.6 82.0,65.4C82.6,64.3 83.2,63.0 83.8,61.7C84.4,60.4 85.0,58.9 85.6,57.5C86.2,56.0 86.8,54.5 87.4,52.9C88.0,51.4 88.6,49.8 89.2,48.2C89.8,46.7 90.4,45.1 91.0,43.6C91.6,42.0 92.2,40.5 92.8,39.1C93.4,37.6 94.0,36.2 94.6,34.9C95.2,33.6 95.8,32.4 96.4,31.2C97.0,30.1 97.6,29.0 98.2,28.0C98.8,27.1 99.4,26.2 100.0,25.4C100.6,24.7 101.2,24.0 101.8,23.4C102.4,22.9 103.0,22.4 103.6,22.0C104.2,21.6 104.8,21.3 105.4,21.1C106.0,20.9 106.6,20.8 107.2,20.7C107.8,20.7 108.4,20.7 109.0,20.7C109.6,20.8 110.2,20.9 110.8,21.1C111.4,21.3 112.0,21.5 112.6,21.7C113.2,22.0 113.8,22.3 114.4,22.6C115.0,22.9 115.6,23.2 116.2,23.6C116.8,24.0 117.4,24.3 118.0,24.7C118.6,25.1 119.2,25.5 119.8,25.9C120.4,26.4 121.0,26.8 121.6,27.2C122.2,27.6 122.8,28.0 123.4,28.5C124.0,28.9 124.6,29.3 125.2,29.8C125.8,30.2 126.4,30.7 127.0,31.1C127.6,31.5 128.2,32.0 128.8,32.4C129.4,32.9 130.0,33.3 130.6,33.8C131.2,34.3 131.8,34.7 132.4,35.2C133.0,35.7 133.6,36.2 134.2,36.7C134.8,37.2 135.4,37.7 136.0,38.2C136.6,38.7 137.2,39.3 137.8,39.8C138.4,40.4 139.0,41.0 139.6,41.5C140.2,42.1 140.8,42.8 141.4,43.4C142.0,44.0 142.9,45.1 143.2,45.4"/><path d="M89.7,75.3C90.0,75.6 90.9,76.9 91.5,77.5C92.1,78.1 92.7,78.5 93.3,78.7C93.9,78.9 94.5,78.9 95.1,78.7C95.7,78.4 96.3,77.9 96.9,77.2C97.5,76.4 98.1,75.5 98.7,74.3C99.3,73.0 99.9,71.6 100.5,69.9C101.1,68.3 101.7,66.4 102.3,64.5C102.9,62.5 103.5,60.4 104.1,58.2C104.7,56.0 105.3,53.7 105.9,51.4C106.5,49.2 107.1,46.9 107.7,44.7C108.3,42.5 108.9,40.3 109.5,38.3C110.1,36.3 110.7,34.3 111.3,32.6C111.9,30.8 112.5,29.2 113.1,27.8C113.7,26.4 114.3,25.2 114.9,24.2C115.5,23.1 116.1,22.3 116.7,21.6C117.3,20.9 117.9,20.4 118.5,20.1C119.1,19.7 119.7,19.5 120.3,19.5C120.9,19.4 121.5,19.5 122.1,19.6C122.7,19.8 123.3,20.1 123.9,20.4C124.5,20.7 125.1,21.1 125.7,21.6C126.3,22.0 126.9,22.5 127.5,23.1C128.1,23.6 128.7,24.2 129.3,24.8C129.9,25.3 130.5,25.9 131.1,26.6C131.7,27.2 132.3,27.8 132.9,28.4C133.5,29.0 134.1,29.7 134.7,30.3C135.3,30.9 135.9,31.6 136.5,32.2C137.1,32.9 137.7,33.5 138.3,34.2C138.9,34.9 139.5,35.5 140.1,36.2C140.7,36.9 141.3,37.7 141.9,38.4C142.5,39.2 143.1,39.9 143.7,40.7C144.3,41.5 144.9,42.4 145.5,43.2C146.1,44.1 146.7,45.0 147.3,46.0C147.9,46.9 148.5,47.9 149.1,49.0C149.7,50.0 150.3,51.1 150.9,52.3C151.5,53.4 152.1,54.6 152.7,55.8C153.3,57.1 153.9,58.3 154.5,59.6C155.1,60.9 156.0,62.9 156.3,63.5"/><path d="M91.5,73.3C91.8,73.6 92.7,74.6 93.3,75.2C93.9,75.7 94.5,76.2 95.1,76.5C95.7,76.8 96.3,77.1 96.9,77.2C97.5,77.3 98.1,77.3 98.7,77.2C99.3,77.0 99.9,76.8 100.5,76.4C101.1,75.9 101.7,75.4 102.3,74.7C102.9,74.0 103.5,73.2 104.1,72.2C104.7,71.3 105.3,70.2 105.9,69.0C106.5,67.9 107.1,66.5 107.7,65.2C108.3,63.8 108.9,62.3 109.5,60.8C110.1,59.3 110.7,57.7 111.3,56.1C111.9,54.5 112.5,52.9 113.1,51.3C113.7,49.7 114.3,48.1 114.9,46.5C115.5,44.9 116.1,43.4 116.7,41.9C117.3,40.5 117.9,39.1 118.5,37.8C119.1,36.5 119.7,35.2 120.3,34.1C120.9,33.0 121.5,31.9 122.1,31.0C122.7,30.1 123.3,29.2 123.9,28.5C124.5,27.8 125.1,27.2 125.7,26.6C126.3,26.1 126.9,25.7 127.5,25.4C128.1,25.0 128.7,24.8 129.3,24.7C129.9,24.5 130.5,24.4 131.1,24.4C131.7,24.4 132.3,24.5 132.9,24.6C133.5,24.7 134.1,24.9 134.7,25.1C135.3,25.3 135.9,25.6 136.5,25.9C137.1,26.2 137.7,26.5 138.3,26.9C138.9,27.2 139.5,27.6 140.1,28.0C140.7,28.4 141.3,28.8 141.9,29.2C142.5,29.6 143.1,30.0 143.7,30.5C144.3,30.9 144.9,31.3 145.5,31.8C146.1,32.2 146.7,32.7 147.3,33.1C147.9,33.6 148.5,34.0 149.1,34.5C149.7,34.9 150.3,35.4 150.9,35.8C151.5,36.3 152.1,36.7 152.7,37.2C153.3,37.7 153.9,38.2 154.5,38.7C155.1,39.1 155.7,39.6 156.3,40.1C156.9,40.6 157.5,41.2 158.1,41.7C158.7,42.2 159.6,43.1 159.9,43.4"/><path d="M118.0,69.5C118.3,69.1 119.2,67.8 119.8,66.8C120.4,65.9 121.0,64.8 121.6,63.6C122.2,62.5 122.8,61.2 123.4,59.9C124.0,58.6 124.6,57.3 125.2,55.9C125.8,54.6 126.4,53.2 127.0,51.8C127.6,50.4 128.2,49.0 128.8,47.7C129.4,46.3 130.0,45.0 130.6,43.7C131.2,42.4 131.8,41.2 132.4,40.1C133.0,38.9 133.6,37.8 134.2,36.8C134.8,35.8 135.4,34.9 136.0,34.0C136.6,33.2 137.2,32.5 137.8,31.8C138.4,31.1 139.0,30.6 139.6,30.1C140.2,29.6 140.8,29.2 141.4,28.9C142.0,28.6 142.6,28.3 143.2,28.2C143.8,28.0 144.4,27.9 145.0,27.9C145.6,27.8 146.2,27.9 146.8,27.9C147.4,28.0 148.0,28.1 148.6,28.3C149.2,28.5 149.8,28.7 150.4,28.9C151.0,29.2 151.6,29.4 152.2,29.7C152.8,30.0 153.4,30.3 154.0,30.6C154.6,31.0 155.2,31.3 155.8,31.7C156.4,32.0 157.0,32.4 157.6,32.7C158.2,33.1 158.8,33.5 159.4,33.9C160.0,34.2 160.6,34.6 161.2,35.0C161.8,35.4 162.4,35.8 163.0,36.1C163.6,36.5 164.2,36.9 164.8,37.3C165.4,37.7 166.0,38.1 166.6,38.5C167.2,38.9 167.8,39.3 168.4,39.7C169.0,40.1 169.6,40.5 170.2,41.0C170.8,41.4 171.4,41.8 172.0,42.3C172.6,42.7 173.2,43.2 173.8,43.7C174.4,44.2 175.0,44.6 175.6,45.2C176.2,45.7 176.8,46.2 177.4,46.7C178.0,47.3 178.9,48.2 179.2,48.4"/><path d="M118.9,70.8C119.2,71.2 120.1,72.7 120.7,73.5C121.3,74.3 121.9,75.1 122.5,75.7C123.1,76.3 123.7,76.9 124.3,77.3C124.9,77.7 125.5,77.9 126.1,78.0C126.7,78.1 127.3,78.1 127.9,77.9C128.5,77.7 129.1,77.3 129.7,76.7C130.3,76.1 130.9,75.4 131.5,74.5C132.1,73.6 132.7,72.5 133.3,71.3C133.9,70.0 134.5,68.6 135.1,67.1C135.7,65.6 136.3,64.0 136.9,62.3C137.5,60.6 138.1,58.7 138.7,56.9C139.3,55.0 139.9,53.1 140.5,51.2C141.1,49.4 141.7,47.5 142.3,45.6C142.9,43.8 143.5,42.0 144.1,40.2C144.7,38.5 145.3,36.9 145.9,35.3C146.5,33.8 147.1,32.4 147.7,31.0C148.3,29.7 148.9,28.6 149.5,27.5C150.1,26.5 150.7,25.5 151.3,24.7C151.9,24.0 152.5,23.3 153.1,22.8C153.7,22.2 154.3,21.8 154.9,21.5C155.5,21.2 156.1,21.1 156.7,21.0C157.3,20.9 157.9,20.9 158.5,21.0C159.1,21.0 159.7,21.2 160.3,21.4C160.9,21.6 161.5,21.9 162.1,22.2C162.7,22.6 163.3,22.9 163.9,23.3C164.5,23.7 165.1,24.2 165.7,24.6C166.3,25.1 166.9,25.5 167.5,26.0C168.1,26.5 168.7,27.0 169.3,27.5C169.9,28.0 170.5,28.5 171.1,29.1C171.7,29.6 172.3,30.1 172.9,30.6C173.5,31.1 174.1,31.7 174.7,32.2C175.3,32.7 175.9,33.3 176.5,33.8C177.1,34.4 177.7,34.9 178.3,35.5C178.9,36.0 179.5,36.6 180.1,37.2C180.7,37.8 181.3,38.4 181.9,39.0C182.5,39.6 183.1,40.2 183.7,40.9C184.3,41.5 184.9,42.2 185.5,42.9C186.1,43.6 186.7,44.3 187.3,45.1C187.9,45.9 188.5,46.6 189.1,47.5C189.7,48.3 190.6,49.6 190.9,50.0"/><path d="M127.8,63.5C128.1,63.9 129.0,65.2 129.6,66.0C130.2,66.8 130.8,67.6 131.4,68.3C132.0,69.0 132.6,69.6 133.2,70.2C133.8,70.7 134.4,71.2 135.0,71.6C135.6,72.0 136.2,72.3 136.8,72.4C137.4,72.6 138.0,72.6 138.6,72.5C139.2,72.4 139.8,72.2 140.4,71.8C141.0,71.4 141.6,70.9 142.2,70.2C142.8,69.5 143.4,68.7 144.0,67.8C144.6,66.9 145.2,65.8 145.8,64.6C146.4,63.5 147.0,62.2 147.6,60.8C148.2,59.5 148.8,58.0 149.4,56.6C150.0,55.1 150.6,53.6 151.2,52.1C151.8,50.6 152.4,49.1 153.0,47.6C153.6,46.1 154.2,44.7 154.8,43.3C155.4,41.9 156.0,40.6 156.6,39.3C157.2,38.1 157.8,36.9 158.4,35.9C159.0,34.8 159.6,33.9 160.2,33.0C160.8,32.2 161.4,31.4 162.0,30.8C162.6,30.1 163.2,29.6 163.8,29.2C164.4,28.8 165.0,28.4 165.6,28.2C166.2,28.0 166.8,27.8 167.4,27.7C168.0,27.7 168.6,27.7 169.2,27.8C169.8,27.8 170.4,28.0 171.0,28.1C171.6,28.3 172.2,28.6 172.8,28.8C173.4,29.1 174.0,29.4 174.6,29.7C175.2,30.0 175.8,30.4 176.4,30.7C177.0,31.1 177.6,31.5 178.2,31.9C178.8,32.3 179.4,32.7 180.0,33.1C180.6,33.5 181.2,33.9 181.8,34.3C182.4,34.7 183.0,35.1 183.6,35.6C184.2,36.0 184.8,36.4 185.4,36.8C186.0,37.3 186.6,37.7 187.2,38.1C187.8,38.6 188.4,39.0 189.0,39.4C189.6,39.9 190.2,40.3 190.8,40.8C191.4,41.3 192.3,42.0 192.6,42.3"/><path d="M150.7,69.5C151.0,69.9 151.9,71.0 152.5,71.6C153.1,72.1 153.7,72.5 154.3,72.6C154.9,72.8 155.5,72.7 156.1,72.5C156.7,72.2 157.3,71.7 157.9,71.0C158.5,70.3 159.1,69.4 159.7,68.2C160.3,67.1 160.9,65.7 161.5,64.2C162.1,62.7 162.7,60.9 163.3,59.1C163.9,57.3 164.5,55.3 165.1,53.2C165.7,51.2 166.3,49.1 166.9,47.0C167.5,44.9 168.1,42.8 168.7,40.8C169.3,38.8 169.9,36.8 170.5,34.9C171.1,33.1 171.7,31.3 172.3,29.8C172.9,28.2 173.5,26.7 174.1,25.5C174.7,24.2 175.3,23.1 175.9,22.2C176.5,21.3 177.1,20.5 177.7,19.9C178.3,19.3 178.9,18.9 179.5,18.6C180.1,18.3 180.7,18.2 181.3,18.1C181.9,18.1 182.5,18.2 183.1,18.3C183.7,18.5 184.3,18.7 184.9,19.1C185.5,19.4 186.1,19.8 186.7,20.2C187.3,20.6 187.9,21.1 188.5,21.6C189.1,22.1 189.7,22.6 190.3,23.2C190.9,23.7 191.5,24.3 192.1,24.8C192.7,25.4 193.3,26.0 193.9,26.6C194.5,27.1 195.1,27.7 195.7,28.3C196.3,28.9 196.9,29.5 197.5,30.1C198.1,30.7 198.7,31.3 199.3,31.9C199.9,32.5 200.5,33.2 201.1,33.8C201.7,34.5 202.3,35.1 202.9,35.8C203.5,36.5 204.4,37.6 204.7,38.0"/><path d="M157.6,63.0C157.9,63.4 158.8,64.7 159.4,65.4C160.0,66.1 160.6,66.7 161.2,67.3C161.8,67.8 162.4,68.2 163.0,68.6C163.6,68.9 164.2,69.1 164.8,69.1C165.4,69.2 166.0,69.1 166.6,68.8C167.2,68.6 167.8,68.2 168.4,67.6C169.0,67.1 169.6,66.3 170.2,65.5C170.8,64.6 171.4,63.6 172.0,62.5C172.6,61.3 173.2,60.0 173.8,58.7C174.4,57.3 175.0,55.8 175.6,54.3C176.2,52.7 176.8,51.1 177.4,49.5C178.0,47.9 178.6,46.3 179.2,44.7C179.8,43.1 180.4,41.4 181.0,39.9C181.6,38.4 182.2,36.9 182.8,35.5C183.4,34.1 184.0,32.8 184.6,31.6C185.2,30.4 185.8,29.3 186.4,28.4C187.0,27.4 187.6,26.6 188.2,25.8C188.8,25.1 189.4,24.5 190.0,24.0C190.6,23.5 191.2,23.1 191.8,22.8C192.4,22.5 193.0,22.3 193.6,22.2C194.2,22.1 194.8,22.1 195.4,22.2C196.0,22.3 196.6,22.4 197.2,22.6C197.8,22.8 198.4,23.0 199.0,23.3C199.6,23.6 200.2,23.9 200.8,24.2C201.4,24.6 202.0,25.0 202.6,25.4C203.2,25.7 203.8,26.2 204.4,26.6C205.0,27.0 205.6,27.4 206.2,27.9C206.8,28.3 207.4,28.8 208.0,29.2C208.6,29.6 209.2,30.1 209.8,30.5C210.4,31.0 211.0,31.5 211.6,31.9C212.2,32.4 212.8,32.8 213.4,33.3C214.0,33.8 214.6,34.3 215.2,34.7C215.8,35.2 216.7,36.0 217.0,36.2"/><path d="M174.3,65.9C174.6,65.8 175.5,65.7 176.1,65.4C176.7,65.2 177.3,64.7 177.9,64.2C178.5,63.6 179.1,62.9 179.7,62.1C180.3,61.3 180.9,60.3 181.5,59.2C182.1,58.1 182.7,56.9 183.3,55.7C183.9,54.4 184.5,53.0 185.1,51.6C185.7,50.2 186.3,48.7 186.9,47.2C187.5,45.7 188.1,44.2 188.7,42.7C189.3,41.2 189.9,39.7 190.5,38.2C191.1,36.8 191.7,35.4 192.3,34.1C192.9,32.8 193.5,31.5 194.1,30.4C194.7,29.2 195.3,28.1 195.9,27.2C196.5,26.2 197.1,25.4 197.7,24.6C198.3,23.9 198.9,23.2 199.5,22.7C200.1,22.1 200.7,21.7 201.3,21.4C201.9,21.0 202.5,20.8 203.1,20.6C203.7,20.5 204.3,20.4 204.9,20.4C205.5,20.4 206.1,20.4 206.7,20.5C207.3,20.7 207.9,20.8 208.5,21.0C209.1,21.3 209.7,21.5 210.3,21.8C210.9,22.1 211.5,22.4 212.1,22.8C212.7,23.1 213.3,23.5 213.9,23.8C214.5,24.2 215.1,24.6 215.7,25.0C216.3,25.4 217.2,26.0 217.5,26.2"/><path d="M184.6,67.0C184.9,67.1 185.8,67.6 186.4,67.7C187.0,67.8 187.6,67.8 188.2,67.7C188.8,67.5 189.4,67.3 190.0,66.9C190.6,66.5 191.2,65.9 191.8,65.3C192.4,64.6 193.0,63.8 193.6,62.9C194.2,62.0 194.8,60.9 195.4,59.8C196.0,58.7 196.6,57.4 197.2,56.1C197.8,54.8 198.4,53.5 199.0,52.1C199.6,50.7 200.2,49.2 200.8,47.7C201.4,46.3 202.0,44.8 202.6,43.4C203.2,42.0 203.8,40.6 204.4,39.2C205.0,37.9 205.6,36.6 206.2,35.4C206.8,34.2 207.4,33.0 208.0,32.0C208.6,31.0 209.2,30.0 209.8,29.2C210.4,28.3 211.0,27.6 211.6,26.9C212.2,26.3 212.8,25.7 213.4,25.3C214.0,24.8 214.6,24.5 215.2,24.2C215.8,24.0 216.7,23.8 217.0,23.7"/><path d="M191.7,58.4C192.0,58.9 192.9,60.4 193.5,61.4C194.1,62.4 194.7,63.3 195.3,64.1C195.9,65.0 196.5,65.8 197.1,66.5C197.7,67.1 198.3,67.8 198.9,68.2C199.5,68.6 200.1,69.0 200.7,69.1C201.3,69.3 201.9,69.3 202.5,69.2C203.1,69.0 203.7,68.7 204.3,68.1C204.9,67.6 205.5,66.9 206.1,66.1C206.7,65.2 207.3,64.1 207.9,63.0C208.5,61.8 209.1,60.4 209.7,58.9C210.3,57.5 210.9,55.8 211.5,54.2C212.1,52.5 212.7,50.7 213.3,48.9C213.9,47.1 214.5,45.3 215.1,43.5C215.7,41.7 216.3,39.8 216.9,38.1C217.5,36.4 218.4,33.9 218.7,33.1"/><path d="M208.9,65.9C209.2,66.1 210.1,66.6 210.7,66.8C211.3,66.9 211.9,67.0 212.5,66.9C213.1,66.8 213.7,66.6 214.3,66.3C214.9,65.9 215.5,65.4 216.1,64.8C216.7,64.1 217.6,62.8 217.9,62.4"/></g>
<g fill="none" stroke="#ffff00" stroke-width="2.0" stroke-linecap="round" stroke-linejoin="round"><path d="M0.0,44.3C1.9,44.5 7.5,45.5 11.4,45.5C15.3,45.5 18.9,44.8 23.4,44.3C27.9,43.8 34.2,42.8 38.7,42.5C43.2,42.2 46.5,42.0 50.4,42.5C54.3,43.0 58.1,44.4 62.1,45.5C66.2,46.7 71.4,48.2 74.7,49.3C78.0,50.4 78.8,51.1 81.9,52.1C85.0,53.1 89.2,54.6 93.6,55.2C98.0,55.7 103.0,54.8 108.0,55.2C113.0,55.5 118.5,56.5 123.3,57.2C128.1,57.9 132.6,58.7 136.8,59.2C141.0,59.7 144.3,59.9 148.5,60.0C152.7,60.0 157.5,60.0 162.0,59.7C166.5,59.4 171.0,58.7 175.5,58.2C180.0,57.7 184.5,57.1 189.0,56.7C193.5,56.3 198.0,55.9 202.5,55.7C207.0,55.4 213.8,55.2 216.0,55.2"/><path d="M0.0,53.1C1.9,53.3 7.5,54.5 11.4,54.1C15.3,53.8 19.5,52.2 23.4,51.1C27.3,50.0 31.2,48.2 35.1,47.3C39.0,46.4 42.9,45.7 46.8,45.5C50.7,45.4 54.6,45.7 58.5,46.3C62.4,46.9 66.3,48.2 70.2,49.3C74.1,50.5 78.0,52.0 81.9,53.1C85.8,54.3 89.2,56.2 93.6,56.2C98.0,56.2 104.1,54.5 108.0,53.1C111.9,51.8 113.8,49.8 117.0,48.1C120.1,46.4 123.2,44.3 126.9,43.0C130.7,41.7 136.2,40.9 139.5,40.5C142.8,40.1 143.9,40.3 146.7,40.5C149.6,40.6 153.3,41.2 156.6,41.5C159.9,41.8 162.6,42.2 166.5,42.5C170.4,42.8 175.5,43.4 180.0,43.5C184.5,43.6 189.0,43.2 193.5,43.0C198.0,42.8 203.2,42.5 207.0,42.3C210.8,42.0 214.5,41.6 216.0,41.5"/><path d="M0.0,57.2C3.9,56.8 17.6,55.8 23.4,55.2C29.3,54.5 31.2,53.8 35.1,53.1C39.0,52.5 42.9,51.6 46.8,51.1C50.7,50.6 54.6,50.3 58.5,50.3C62.4,50.3 66.3,50.5 70.2,51.1C74.1,51.7 78.0,53.1 81.9,54.1C85.8,55.2 89.2,56.5 93.6,57.2C98.0,57.9 103.3,58.4 108.0,58.2C112.7,57.9 117.0,56.6 121.5,55.7C126.0,54.7 130.8,53.4 135.0,52.6C139.2,51.9 143.1,51.2 146.7,51.1C150.3,51.0 153.3,51.8 156.6,52.1C159.9,52.5 163.2,53.1 166.5,53.1C169.8,53.1 173.1,52.8 176.4,52.1C179.7,51.5 183.0,50.5 186.3,49.3C189.6,48.2 192.8,46.5 196.2,45.3C199.6,44.1 203.7,43.1 207.0,42.3C210.3,41.4 214.5,40.8 216.0,40.5"/><path d="M0.0,40.5C1.9,40.6 7.5,40.4 11.4,41.5C15.3,42.6 19.5,45.4 23.4,47.3C27.3,49.3 31.2,51.7 35.1,53.1C39.0,54.6 42.9,55.5 46.8,56.2C50.7,56.8 54.6,57.3 58.5,57.2C62.4,57.0 66.3,56.2 70.2,55.2C74.1,54.1 78.0,52.4 81.9,51.1C85.8,49.8 89.2,48.1 93.6,47.3C98.0,46.5 103.0,46.6 108.0,46.3C113.0,46.0 118.5,45.3 123.3,45.3C128.1,45.3 132.9,45.6 136.8,46.3C140.7,47.0 143.4,48.4 146.7,49.3C150.0,50.3 153.3,51.4 156.6,52.1C159.9,52.8 162.6,53.0 166.5,53.6C170.4,54.2 175.5,55.1 180.0,55.7C184.5,56.3 189.0,57.0 193.5,57.2C198.0,57.4 203.2,57.2 207.0,56.9C210.8,56.7 214.5,55.9 216.0,55.7"/><path d="M0.0,58.7C4.5,58.8 18.0,59.3 27.0,59.2C36.0,59.1 45.0,58.3 54.0,58.2C63.0,58.1 73.5,58.9 81.0,58.7C88.5,58.5 93.8,57.8 99.0,56.9C104.2,56.1 108.0,54.9 112.5,53.6C117.0,52.4 120.8,50.7 126.0,49.3C131.2,48.0 138.0,46.6 144.0,45.5C150.0,44.5 156.0,43.6 162.0,43.0C168.0,42.4 174.0,42.0 180.0,42.0C186.0,42.0 192.0,42.6 198.0,43.0C204.0,43.4 213.0,44.1 216.0,44.3"/></g>
<g fill="none" stroke="#ff0000" stroke-width="2.1" stroke-linecap="round" stroke-linejoin="round"><path d="M0.0,41.7C1.2,41.5 5.5,40.4 7.2,40.2C8.8,40.0 9.5,40.4 9.9,40.5"/><path d="M67.5,72.1C68.1,71.1 69.8,68.1 71.1,66.3C72.4,64.5 73.8,62.9 75.2,61.5C76.6,60.0 78.2,59.8 79.6,57.7C80.9,55.6 81.5,52.6 83.4,48.8C85.3,45.1 88.0,38.2 90.9,35.2C93.8,32.2 97.9,31.3 100.8,30.9C103.6,30.4 105.5,31.4 108.0,32.4C110.5,33.4 113.5,34.7 116.1,36.7C118.6,38.7 120.9,41.5 123.3,44.3C125.7,47.0 128.2,50.8 130.5,53.1C132.8,55.4 134.7,56.9 136.8,58.2C138.9,59.5 141.1,60.5 143.1,61.0C145.1,61.5 146.6,61.4 148.5,61.2C150.4,61.1 152.9,60.7 154.8,60.2C156.8,59.7 159.3,58.5 160.2,58.2"/><path d="M116.1,72.9C117.0,71.9 119.0,69.7 121.5,67.0C124.0,64.4 128.4,60.5 131.4,57.2C134.4,53.9 137.1,50.5 139.5,47.3C141.9,44.1 143.8,41.0 145.8,38.0C147.8,34.9 149.4,31.4 151.2,29.1C153.0,26.8 154.6,24.9 156.6,24.0C158.6,23.2 160.8,23.2 162.9,24.0C165.0,24.9 167.2,27.1 169.2,29.1C171.1,31.1 172.6,33.5 174.6,35.9C176.5,38.3 178.8,41.1 180.9,43.5C183.0,46.0 185.1,48.6 187.2,50.6C189.3,52.6 191.2,54.4 193.5,55.7C195.8,56.9 198.5,57.7 200.7,58.2C203.0,58.7 205.9,58.6 207.0,58.7"/><path d="M72.0,61.5C73.5,61.0 77.8,60.0 81.0,58.7C84.2,57.4 87.6,55.7 90.9,53.9C94.2,52.1 97.8,49.5 100.8,47.8C103.8,46.2 106.2,44.8 108.9,44.0C111.6,43.2 114.4,42.8 117.0,43.0C119.5,43.2 122.0,44.1 124.2,45.0C126.5,46.0 128.2,47.8 130.5,48.8C132.8,49.8 134.9,50.4 137.7,51.1C140.6,51.8 143.7,51.9 147.6,52.9C151.5,53.8 157.3,55.6 161.1,56.7C164.8,57.8 167.2,59.0 170.1,59.5C172.9,59.9 175.4,59.9 178.2,59.5C181.1,59.0 184.2,57.9 187.2,56.7C190.2,55.4 193.3,53.3 196.2,51.9C199.0,50.4 201.0,49.5 204.3,48.1C207.6,46.6 214.1,43.9 216.0,43.0"/></g>
<line x1="0" y1="50.60" x2="216.00" y2="50.60" stroke="#1020e0" stroke-width="2.0"/>
<rect x="9.72" y="0" width="1.98" height="101.20" fill="#fff"/>
<circle cx="210.0" cy="13.9" r="1.2" fill="#ffff00"/>
<circle cx="210.0" cy="23.5" r="1.2" fill="#ff0000"/>
<circle cx="210.0" cy="27.1" r="1.2" fill="#ffff00"/>
<circle cx="210.0" cy="75.1" r="1.2" fill="#00ff00"/>
<circle cx="210.0" cy="85.8" r="1.2" fill="#ffff00"/>
<circle cx="210.0" cy="96.4" r="1.2" fill="#00ff00"/>
</g>
<g id="row2">
<g fill="none" stroke="#00ff00" stroke-width="2.0" stroke-linecap="round" stroke-linejoin="round"><path d=""/><path d=""/><path d="M-2.0,46.2C-1.7,46.8 -0.8,48.6 -0.2,49.7C0.4,50.9 1.0,52.1 1.6,53.3C2.2,54.5 2.8,55.7 3.4,56.9C4.0,58.1 4.6,59.3 5.2,60.5C5.8,61.7 6.4,62.9 7.0,64.1C7.6,65.3 8.2,66.5 8.8,67.7C9.4,68.8 10.0,70.0 10.6,71.1C11.2,72.2 11.8,73.3 12.4,74.4C13.0,75.4 13.9,76.9 14.2,77.4"/><path d="M-2.2,24.3C-1.9,24.9 -1.0,26.5 -0.4,27.6C0.2,28.7 0.8,29.9 1.4,31.1C2.0,32.3 2.6,33.5 3.2,34.7C3.8,36.0 4.4,37.2 5.0,38.5C5.6,39.8 6.2,41.1 6.8,42.4C7.4,43.8 8.0,45.1 8.6,46.5C9.2,47.8 9.8,49.2 10.4,50.6C11.0,51.9 11.6,53.3 12.2,54.7C12.8,56.1 13.4,57.5 14.0,58.9C14.6,60.3 15.2,61.7 15.8,63.1C16.4,64.5 17.0,65.8 17.6,67.2C18.2,68.5 19.1,70.5 19.4,71.2"/><path d="M-2.1,16.3C-1.8,16.5 -0.9,17.3 -0.3,18.0C0.3,18.7 0.9,19.4 1.5,20.2C2.1,21.1 2.7,22.0 3.3,22.9C3.9,23.9 4.5,24.9 5.1,26.0C5.7,27.0 6.3,28.1 6.9,29.3C7.5,30.4 8.1,31.6 8.7,32.8C9.3,34.0 9.9,35.3 10.5,36.5C11.1,37.8 11.7,39.1 12.3,40.4C12.9,41.7 13.5,43.0 14.1,44.4C14.7,45.7 15.3,47.1 15.9,48.5C16.5,49.9 17.1,51.3 17.7,52.7C18.3,54.1 18.9,55.5 19.5,56.9C20.1,58.4 20.7,59.8 21.3,61.2C21.9,62.7 22.5,64.1 23.1,65.5C23.7,66.9 24.6,69.0 24.9,69.7"/><path d="M-2.4,20.7C-2.1,20.1 -1.2,18.5 -0.6,17.6C0.0,16.7 0.6,15.9 1.2,15.3C1.8,14.7 2.4,14.2 3.0,13.8C3.6,13.5 4.2,13.2 4.8,13.1C5.4,13.0 6.0,13.0 6.6,13.2C7.2,13.3 7.8,13.5 8.4,13.8C9.0,14.1 9.6,14.6 10.2,15.1C10.8,15.5 11.4,16.1 12.0,16.8C12.6,17.4 13.2,18.1 13.8,18.9C14.4,19.7 15.0,20.5 15.6,21.4C16.2,22.3 16.8,23.2 17.4,24.2C18.0,25.1 18.6,26.2 19.2,27.2C19.8,28.2 20.4,29.3 21.0,30.4C21.6,31.5 22.2,32.6 22.8,33.8C23.4,34.9 24.0,36.1 24.6,37.2C25.2,38.4 25.8,39.6 26.4,40.9C27.0,42.1 27.6,43.3 28.2,44.6C28.8,45.8 29.4,47.1 30.0,48.3C30.6,49.6 31.2,50.9 31.8,52.2C32.4,53.5 33.0,54.8 33.6,56.1C34.2,57.4 34.8,58.7 35.4,60.0C36.0,61.3 36.9,63.2 37.2,63.9"/><path d="M-1.3,37.0C-1.0,36.1 -0.1,33.3 0.5,31.6C1.1,29.9 1.7,28.2 2.3,26.7C2.9,25.1 3.5,23.6 4.1,22.3C4.7,20.9 5.3,19.7 5.9,18.5C6.5,17.4 7.1,16.4 7.7,15.5C8.3,14.7 8.9,13.9 9.5,13.3C10.1,12.6 10.7,12.1 11.3,11.7C11.9,11.3 12.5,11.0 13.1,10.8C13.7,10.7 14.3,10.6 14.9,10.6C15.5,10.7 16.1,10.8 16.7,11.1C17.3,11.3 17.9,11.6 18.5,12.0C19.1,12.4 19.7,12.9 20.3,13.4C20.9,14.0 21.5,14.6 22.1,15.2C22.7,15.9 23.3,16.6 23.9,17.4C24.5,18.2 25.1,19.0 25.7,19.9C26.3,20.7 26.9,21.7 27.5,22.6C28.1,23.5 28.7,24.5 29.3,25.5C29.9,26.5 30.5,27.5 31.1,28.6C31.7,29.6 32.3,30.7 32.9,31.8C33.5,32.9 34.1,34.0 34.7,35.1C35.3,36.2 35.9,37.4 36.5,38.5C37.1,39.7 37.7,40.8 38.3,42.0C38.9,43.2 39.5,44.4 40.1,45.6C40.7,46.8 41.3,48.0 41.9,49.2C42.5,50.5 43.4,52.3 43.7,52.9"/><path d="M-1.1,70.6C-0.8,69.6 0.1,66.8 0.7,64.8C1.3,62.9 1.9,60.8 2.5,58.8C3.1,56.7 3.7,54.6 4.3,52.5C4.9,50.5 5.5,48.4 6.1,46.4C6.7,44.3 7.3,42.3 7.9,40.4C8.5,38.5 9.1,36.6 9.7,34.8C10.3,33.0 10.9,31.3 11.5,29.7C12.1,28.1 12.7,26.6 13.3,25.3C13.9,23.9 14.5,22.7 15.1,21.6C15.7,20.4 16.3,19.5 16.9,18.6C17.5,17.7 18.1,17.0 18.7,16.4C19.3,15.8 19.9,15.3 20.5,15.0C21.1,14.6 21.7,14.4 22.3,14.3C22.9,14.2 23.5,14.2 24.1,14.3C24.7,14.4 25.3,14.6 25.9,14.9C26.5,15.2 27.1,15.6 27.7,16.1C28.3,16.5 28.9,17.1 29.5,17.7C30.1,18.3 30.7,19.0 31.3,19.8C31.9,20.5 32.5,21.3 33.1,22.2C33.7,23.0 34.3,23.9 34.9,24.8C35.5,25.8 36.1,26.8 36.7,27.8C37.3,28.8 37.9,29.8 38.5,30.9C39.1,32.0 39.7,33.0 40.3,34.2C40.9,35.3 41.5,36.4 42.1,37.6C42.7,38.7 43.3,39.9 43.9,41.1C44.5,42.3 45.1,43.5 45.7,44.7C46.3,46.0 46.9,47.2 47.5,48.5C48.1,49.7 48.7,51.0 49.3,52.2C49.9,53.5 50.5,54.8 51.1,56.1C51.7,57.4 52.3,58.7 52.9,60.0C53.5,61.3 54.1,62.6 54.7,63.9C55.3,65.1 55.9,66.4 56.5,67.7C57.1,69.0 57.7,70.3 58.3,71.5C58.9,72.8 59.8,74.6 60.1,75.2"/><path d="M-1.7,85.3C-1.4,85.4 -0.5,85.8 0.1,85.8C0.7,85.8 1.3,85.6 1.9,85.3C2.5,84.9 3.1,84.4 3.7,83.7C4.3,83.0 4.9,82.1 5.5,81.0C6.1,79.9 6.7,78.7 7.3,77.2C7.9,75.8 8.5,74.2 9.1,72.5C9.7,70.7 10.3,68.8 10.9,66.8C11.5,64.9 12.1,62.7 12.7,60.6C13.3,58.4 13.9,56.1 14.5,53.8C15.1,51.6 15.7,49.2 16.3,47.0C16.9,44.7 17.5,42.4 18.1,40.2C18.7,37.9 19.3,35.8 19.9,33.7C20.5,31.6 21.1,29.7 21.7,27.8C22.3,26.0 22.9,24.2 23.5,22.7C24.1,21.1 24.7,19.7 25.3,18.4C25.9,17.1 26.5,16.0 27.1,15.1C27.7,14.1 28.3,13.3 28.9,12.7C29.5,12.1 30.1,11.6 30.7,11.3C31.3,11.0 31.9,10.9 32.5,10.8C33.1,10.8 33.7,10.9 34.3,11.2C34.9,11.4 35.5,11.8 36.1,12.2C36.7,12.7 37.3,13.3 37.9,13.9C38.5,14.6 39.1,15.3 39.7,16.2C40.3,17.0 40.9,17.9 41.5,18.8C42.1,19.8 42.7,20.8 43.3,21.8C43.9,22.9 44.5,24.0 45.1,25.1C45.7,26.3 46.3,27.5 46.9,28.7C47.5,29.9 48.1,31.1 48.7,32.4C49.3,33.7 49.9,34.9 50.5,36.3C51.1,37.6 51.7,38.9 52.3,40.3C52.9,41.6 53.5,43.0 54.1,44.4C54.7,45.8 55.3,47.2 55.9,48.6C56.5,50.0 57.1,51.4 57.7,52.8C58.3,54.3 58.9,55.7 59.5,57.1C60.1,58.6 60.7,60.0 61.3,61.4C61.9,62.8 62.5,64.3 63.1,65.7C63.7,67.0 64.3,68.4 64.9,69.8C65.5,71.1 66.1,72.4 66.7,73.6C67.3,74.9 67.9,76.1 68.5,77.2C69.1,78.3 70.0,79.8 70.3,80.3"/><path d="M2.4,82.0C2.7,82.5 3.6,84.0 4.2,84.9C4.8,85.7 5.4,86.5 6.0,87.1C6.6,87.7 7.2,88.1 7.8,88.4C8.4,88.7 9.0,88.9 9.6,88.9C10.2,88.8 10.8,88.7 11.4,88.3C12.0,87.9 12.6,87.3 13.2,86.6C13.8,85.8 14.4,84.9 15.0,83.7C15.6,82.6 16.2,81.3 16.8,79.8C17.4,78.3 18.0,76.7 18.6,74.9C19.2,73.1 19.8,71.1 20.4,69.1C21.0,67.0 21.6,64.8 22.2,62.6C22.8,60.4 23.4,58.0 24.0,55.7C24.6,53.4 25.2,50.9 25.8,48.6C26.4,46.3 27.0,43.9 27.6,41.6C28.2,39.3 28.8,37.1 29.4,34.9C30.0,32.8 30.6,30.7 31.2,28.8C31.8,26.9 32.4,25.1 33.0,23.5C33.6,21.8 34.2,20.3 34.8,19.0C35.4,17.6 36.0,16.5 36.6,15.5C37.2,14.4 37.8,13.6 38.4,12.9C39.0,12.2 39.6,11.7 40.2,11.4C40.8,11.0 41.4,10.8 42.0,10.7C42.6,10.7 43.2,10.8 43.8,11.0C44.4,11.2 45.0,11.5 45.6,12.0C46.2,12.4 46.8,13.0 47.4,13.6C48.0,14.2 48.6,15.0 49.2,15.8C49.8,16.6 50.4,17.5 51.0,18.4C51.6,19.4 52.2,20.4 52.8,21.5C53.4,22.5 54.0,23.7 54.6,24.8C55.2,26.0 55.8,27.2 56.4,28.4C57.0,29.6 57.6,30.9 58.2,32.2C58.8,33.5 59.4,34.8 60.0,36.1C60.6,37.5 61.2,38.8 61.8,40.2C62.4,41.6 63.0,43.0 63.6,44.4C64.2,45.8 64.8,47.3 65.4,48.7C66.0,50.1 66.6,51.6 67.2,53.1C67.8,54.5 68.4,56.0 69.0,57.5C69.6,59.0 70.2,60.4 70.8,61.9C71.4,63.4 72.0,64.8 72.6,66.3C73.2,67.7 73.8,69.2 74.4,70.6C75.0,72.0 75.6,73.4 76.2,74.7C76.8,76.0 77.7,77.8 78.0,78.5"/><path d="M9.5,87.8C9.8,88.0 10.7,88.7 11.3,88.9C11.9,89.2 12.5,89.3 13.1,89.3C13.7,89.3 14.3,89.2 14.9,89.0C15.5,88.7 16.1,88.4 16.7,87.9C17.3,87.4 17.9,86.7 18.5,86.0C19.1,85.2 19.7,84.3 20.3,83.3C20.9,82.2 21.5,81.1 22.1,79.8C22.7,78.5 23.3,77.1 23.9,75.7C24.5,74.2 25.1,72.6 25.7,70.9C26.3,69.2 26.9,67.4 27.5,65.6C28.1,63.8 28.7,61.9 29.3,60.0C29.9,58.1 30.5,56.2 31.1,54.2C31.7,52.3 32.3,50.4 32.9,48.4C33.5,46.5 34.1,44.6 34.7,42.8C35.3,40.9 35.9,39.1 36.5,37.4C37.1,35.6 37.7,34.0 38.3,32.4C38.9,30.8 39.5,29.3 40.1,27.9C40.7,26.6 41.3,25.3 41.9,24.1C42.5,23.0 43.1,21.9 43.7,21.0C44.3,20.0 44.9,19.2 45.5,18.5C46.1,17.8 46.7,17.2 47.3,16.7C47.9,16.3 48.5,15.9 49.1,15.7C49.7,15.4 50.3,15.3 50.9,15.3C51.5,15.2 52.1,15.3 52.7,15.4C53.3,15.6 53.9,15.8 54.5,16.2C55.1,16.5 55.7,16.9 56.3,17.4C56.9,17.8 57.5,18.4 58.1,19.0C58.7,19.6 59.3,20.3 59.9,21.0C60.5,21.7 61.1,22.5 61.7,23.3C62.3,24.1 62.9,24.9 63.5,25.8C64.1,26.7 64.7,27.6 65.3,28.5C65.9,29.5 66.5,30.5 67.1,31.5C67.7,32.5 68.3,33.5 68.9,34.5C69.5,35.6 70.1,36.7 70.7,37.7C71.3,38.8 71.9,39.9 72.5,41.0C73.1,42.1 73.7,43.3 74.3,44.4C74.9,45.6 75.5,46.7 76.1,47.9C76.7,49.1 77.6,50.8 77.9,51.4"/><path d="M26.1,89.9C26.4,89.6 27.3,88.8 27.9,88.0C28.5,87.2 29.1,86.3 29.7,85.2C30.3,84.2 30.9,83.0 31.5,81.6C32.1,80.3 32.7,78.9 33.3,77.3C33.9,75.7 34.5,74.0 35.1,72.3C35.7,70.5 36.3,68.7 36.9,66.8C37.5,64.9 38.1,62.9 38.7,60.9C39.3,58.9 39.9,56.8 40.5,54.8C41.1,52.7 41.7,50.7 42.3,48.6C42.9,46.6 43.5,44.6 44.1,42.7C44.7,40.8 45.3,38.9 45.9,37.1C46.5,35.3 47.1,33.5 47.7,31.9C48.3,30.3 48.9,28.8 49.5,27.4C50.1,26.0 50.7,24.7 51.3,23.5C51.9,22.3 52.5,21.3 53.1,20.3C53.7,19.4 54.3,18.6 54.9,17.9C55.5,17.3 56.1,16.7 56.7,16.3C57.3,15.9 57.9,15.6 58.5,15.4C59.1,15.2 59.7,15.2 60.3,15.2C60.9,15.2 61.5,15.4 62.1,15.6C62.7,15.8 63.3,16.2 63.9,16.6C64.5,17.0 65.1,17.5 65.7,18.0C66.3,18.6 66.9,19.2 67.5,19.9C68.1,20.6 68.7,21.4 69.3,22.2C69.9,23.0 70.5,23.8 71.1,24.7C71.7,25.6 72.3,26.5 72.9,27.5C73.5,28.5 74.1,29.5 74.7,30.5C75.3,31.5 75.9,32.6 76.5,33.7C77.1,34.7 77.7,35.9 78.3,37.0C78.9,38.1 79.5,39.2 80.1,40.4C80.7,41.6 81.3,42.8 81.9,43.9C82.5,45.1 83.1,46.4 83.7,47.6C84.3,48.8 84.9,50.0 85.5,51.3C86.1,52.5 86.7,53.8 87.3,55.0C87.9,56.3 88.5,57.6 89.1,58.8C89.7,60.1 90.3,61.4 90.9,62.7C91.5,63.9 92.4,65.8 92.7,66.5"/><path d="M29.5,80.6C29.8,81.1 30.7,82.4 31.3,83.2C31.9,83.9 32.5,84.6 33.1,85.1C33.7,85.6 34.3,86.0 34.9,86.3C35.5,86.5 36.1,86.6 36.7,86.6C37.3,86.5 37.9,86.3 38.5,86.0C39.1,85.6 39.7,85.1 40.3,84.3C40.9,83.6 41.5,82.8 42.1,81.7C42.7,80.7 43.3,79.5 43.9,78.1C44.5,76.7 45.1,75.2 45.7,73.6C46.3,71.9 46.9,70.2 47.5,68.3C48.1,66.4 48.7,64.4 49.3,62.4C49.9,60.4 50.5,58.2 51.1,56.1C51.7,54.0 52.3,51.8 52.9,49.6C53.5,47.5 54.1,45.3 54.7,43.3C55.3,41.2 55.9,39.1 56.5,37.2C57.1,35.2 57.7,33.3 58.3,31.6C58.9,29.8 59.5,28.2 60.1,26.7C60.7,25.2 61.3,23.8 61.9,22.5C62.5,21.3 63.1,20.2 63.7,19.3C64.3,18.3 64.9,17.5 65.5,16.9C66.1,16.3 66.7,15.8 67.3,15.4C67.9,15.1 68.5,14.8 69.1,14.8C69.7,14.7 70.3,14.7 70.9,14.9C71.5,15.0 72.1,15.3 72.7,15.7C73.3,16.1 73.9,16.6 74.5,17.1C75.1,17.7 75.7,18.3 76.3,19.1C76.9,19.8 77.5,20.6 78.1,21.4C78.7,22.3 79.3,23.2 79.9,24.1C80.5,25.1 81.1,26.1 81.7,27.1C82.3,28.2 82.9,29.2 83.5,30.3C84.1,31.5 84.7,32.6 85.3,33.8C85.9,34.9 86.5,36.1 87.1,37.3C87.7,38.5 88.3,39.8 88.9,41.0C89.5,42.3 90.1,43.5 90.7,44.8C91.3,46.1 91.9,47.4 92.5,48.7C93.1,50.0 93.7,51.3 94.3,52.7C94.9,54.0 95.8,56.0 96.1,56.7"/><path d="M36.9,87.8C37.2,88.0 38.1,88.7 38.7,89.1C39.3,89.4 39.9,89.6 40.5,89.7C41.1,89.8 41.7,89.8 42.3,89.6C42.9,89.4 43.5,89.2 44.1,88.7C44.7,88.3 45.3,87.8 45.9,87.1C46.5,86.4 47.1,85.5 47.7,84.6C48.3,83.6 48.9,82.5 49.5,81.3C50.1,80.1 50.7,78.8 51.3,77.3C51.9,75.9 52.5,74.3 53.1,72.7C53.7,71.0 54.3,69.3 54.9,67.5C55.5,65.7 56.1,63.8 56.7,61.9C57.3,60.0 57.9,58.1 58.5,56.1C59.1,54.2 59.7,52.2 60.3,50.2C60.9,48.3 61.5,46.3 62.1,44.4C62.7,42.5 63.3,40.6 63.9,38.8C64.5,37.0 65.1,35.3 65.7,33.6C66.3,32.0 66.9,30.4 67.5,28.9C68.1,27.5 68.7,26.1 69.3,24.8C69.9,23.6 70.5,22.4 71.1,21.4C71.7,20.4 72.3,19.5 72.9,18.7C73.5,17.9 74.1,17.2 74.7,16.7C75.3,16.1 75.9,15.7 76.5,15.3C77.1,15.0 77.7,14.8 78.3,14.7C78.9,14.6 79.5,14.6 80.1,14.7C80.7,14.8 81.3,15.0 81.9,15.2C82.5,15.5 83.1,15.9 83.7,16.3C84.3,16.7 84.9,17.2 85.5,17.8C86.1,18.4 86.7,19.0 87.3,19.7C87.9,20.4 88.5,21.1 89.1,21.9C89.7,22.7 90.3,23.5 90.9,24.4C91.5,25.3 92.1,26.2 92.7,27.1C93.3,28.0 93.9,29.0 94.5,30.0C95.1,31.0 95.7,32.0 96.3,33.1C96.9,34.1 97.5,35.2 98.1,36.3C98.7,37.4 99.3,38.5 99.9,39.6C100.5,40.7 101.1,41.8 101.7,43.0C102.3,44.1 102.9,45.3 103.5,46.5C104.1,47.6 104.7,48.8 105.3,50.0C105.9,51.2 106.5,52.4 107.1,53.6C107.7,54.9 108.6,56.7 108.9,57.3"/><path d="M50.7,88.0C51.0,88.2 51.9,88.7 52.5,88.8C53.1,88.9 53.7,88.9 54.3,88.8C54.9,88.7 55.5,88.4 56.1,88.1C56.7,87.7 57.3,87.1 57.9,86.5C58.5,85.8 59.1,85.0 59.7,84.1C60.3,83.1 60.9,82.1 61.5,80.9C62.1,79.7 62.7,78.3 63.3,76.9C63.9,75.4 64.5,73.9 65.1,72.2C65.7,70.6 66.3,68.8 66.9,67.0C67.5,65.2 68.1,63.4 68.7,61.4C69.3,59.5 69.9,57.6 70.5,55.6C71.1,53.6 71.7,51.6 72.3,49.7C72.9,47.7 73.5,45.7 74.1,43.8C74.7,41.9 75.3,40.0 75.9,38.2C76.5,36.4 77.1,34.7 77.7,33.0C78.3,31.4 78.9,29.8 79.5,28.4C80.1,26.9 80.7,25.5 81.3,24.3C81.9,23.1 82.5,21.9 83.1,20.9C83.7,19.9 84.3,19.0 84.9,18.3C85.5,17.5 86.1,16.9 86.7,16.4C87.3,15.9 87.9,15.5 88.5,15.2C89.1,14.9 89.7,14.7 90.3,14.7C90.9,14.6 91.5,14.6 92.1,14.8C92.7,14.9 93.3,15.1 93.9,15.4C94.5,15.8 95.1,16.2 95.7,16.6C96.3,17.1 96.9,17.6 97.5,18.3C98.1,18.9 98.7,19.5 99.3,20.3C99.9,21.0 100.5,21.8 101.1,22.6C101.7,23.4 102.3,24.3 102.9,25.2C103.5,26.1 104.1,27.0 104.7,28.0C105.3,28.9 105.9,29.9 106.5,30.9C107.1,32.0 107.7,33.0 108.3,34.1C108.9,35.1 109.5,36.2 110.1,37.3C110.7,38.4 111.3,39.6 111.9,40.7C112.5,41.8 113.1,43.0 113.7,44.2C114.3,45.3 114.9,46.5 115.5,47.7C116.1,48.9 117.0,50.7 117.3,51.3"/><path d="M67.0,89.7C67.3,89.6 68.2,89.3 68.8,88.8C69.4,88.4 70.0,87.8 70.6,87.1C71.2,86.4 71.8,85.6 72.4,84.6C73.0,83.6 73.6,82.4 74.2,81.1C74.8,79.9 75.4,78.5 76.0,77.0C76.6,75.5 77.2,73.8 77.8,72.1C78.4,70.4 79.0,68.6 79.6,66.7C80.2,64.8 80.8,62.9 81.4,60.9C82.0,58.9 82.6,56.9 83.2,54.9C83.8,52.8 84.4,50.8 85.0,48.8C85.6,46.8 86.2,44.8 86.8,42.8C87.4,40.9 88.0,39.0 88.6,37.2C89.2,35.4 89.8,33.6 90.4,32.0C91.0,30.3 91.6,28.8 92.2,27.3C92.8,25.9 93.4,24.6 94.0,23.4C94.6,22.2 95.2,21.1 95.8,20.1C96.4,19.2 97.0,18.3 97.6,17.6C98.2,16.9 98.8,16.4 99.4,15.9C100.0,15.5 100.6,15.1 101.2,14.9C101.8,14.7 102.4,14.6 103.0,14.6C103.6,14.6 104.2,14.7 104.8,14.9C105.4,15.1 106.0,15.4 106.6,15.8C107.2,16.2 107.8,16.7 108.4,17.2C109.0,17.8 109.6,18.4 110.2,19.1C110.8,19.7 111.4,20.5 112.0,21.2C112.6,22.0 113.2,22.9 113.8,23.7C114.4,24.6 115.0,25.5 115.6,26.5C116.2,27.4 116.8,28.4 117.4,29.4C118.0,30.5 118.6,31.5 119.2,32.6C119.8,33.6 120.4,34.7 121.0,35.9C121.6,37.0 122.2,38.1 122.8,39.3C123.4,40.4 124.0,41.6 124.6,42.8C125.2,43.9 125.8,45.1 126.4,46.4C127.0,47.6 127.6,48.8 128.2,50.0C128.8,51.3 129.4,52.5 130.0,53.8C130.6,55.0 131.5,56.9 131.8,57.5"/><path d="M71.3,83.5C71.6,83.9 72.5,85.0 73.1,85.6C73.7,86.2 74.3,86.7 74.9,87.0C75.5,87.3 76.1,87.5 76.7,87.6C77.3,87.6 77.9,87.6 78.5,87.3C79.1,87.0 79.7,86.6 80.3,86.1C80.9,85.5 81.5,84.7 82.1,83.8C82.7,82.9 83.3,81.8 83.9,80.6C84.5,79.4 85.1,78.0 85.7,76.5C86.3,75.0 86.9,73.3 87.5,71.6C88.1,69.8 88.7,67.9 89.3,66.0C89.9,64.1 90.5,62.0 91.1,59.9C91.7,57.9 92.3,55.7 92.9,53.6C93.5,51.5 94.1,49.3 94.7,47.2C95.3,45.1 95.9,43.0 96.5,41.0C97.1,39.0 97.7,37.1 98.3,35.2C98.9,33.4 99.5,31.6 100.1,30.0C100.7,28.4 101.3,26.8 101.9,25.5C102.5,24.1 103.1,22.8 103.7,21.7C104.3,20.6 104.9,19.6 105.5,18.8C106.1,18.0 106.7,17.3 107.3,16.8C107.9,16.3 108.5,15.9 109.1,15.6C109.7,15.4 110.3,15.2 110.9,15.2C111.5,15.2 112.1,15.4 112.7,15.6C113.3,15.8 113.9,16.1 114.5,16.6C115.1,17.0 115.7,17.5 116.3,18.1C116.9,18.7 117.5,19.4 118.1,20.1C118.7,20.9 119.3,21.7 119.9,22.6C120.5,23.4 121.1,24.3 121.7,25.3C122.3,26.3 122.9,27.3 123.5,28.3C124.1,29.3 124.7,30.4 125.3,31.5C125.9,32.6 126.5,33.8 127.1,34.9C127.7,36.1 128.3,37.3 128.9,38.5C129.5,39.7 130.1,40.9 130.7,42.1C131.3,43.4 131.9,44.6 132.5,45.9C133.1,47.2 133.7,48.5 134.3,49.7C134.9,51.0 135.5,52.4 136.1,53.7C136.7,55.0 137.3,56.3 137.9,57.6C138.5,59.0 139.1,60.3 139.7,61.6C140.3,62.9 141.2,64.9 141.5,65.6"/><path d="M77.4,82.0C77.7,82.4 78.6,83.8 79.2,84.5C79.8,85.3 80.4,85.9 81.0,86.5C81.6,87.0 82.2,87.5 82.8,87.8C83.4,88.1 84.0,88.2 84.6,88.3C85.2,88.3 85.8,88.2 86.4,87.9C87.0,87.7 87.6,87.3 88.2,86.7C88.8,86.1 89.4,85.4 90.0,84.5C90.6,83.6 91.2,82.5 91.8,81.3C92.4,80.2 93.0,78.8 93.6,77.3C94.2,75.8 94.8,74.2 95.4,72.5C96.0,70.8 96.6,68.9 97.2,67.0C97.8,65.1 98.4,63.1 99.0,61.0C99.6,58.9 100.2,56.8 100.8,54.7C101.4,52.5 102.0,50.3 102.6,48.2C103.2,46.0 103.8,43.9 104.4,41.8C105.0,39.7 105.6,37.7 106.2,35.7C106.8,33.7 107.4,31.8 108.0,30.0C108.6,28.2 109.2,26.5 109.8,24.9C110.4,23.4 111.0,21.9 111.6,20.6C112.2,19.3 112.8,18.1 113.4,17.0C114.0,15.9 114.6,15.0 115.2,14.2C115.8,13.5 116.4,12.8 117.0,12.3C117.6,11.8 118.2,11.4 118.8,11.2C119.4,10.9 120.0,10.8 120.6,10.8C121.2,10.8 121.8,11.0 122.4,11.2C123.0,11.4 123.6,11.7 124.2,12.1C124.8,12.5 125.4,13.1 126.0,13.6C126.6,14.2 127.2,14.9 127.8,15.6C128.4,16.3 129.0,17.1 129.6,18.0C130.2,18.8 130.8,19.7 131.4,20.7C132.0,21.6 132.6,22.6 133.2,23.6C133.8,24.7 134.4,25.7 135.0,26.8C135.6,27.9 136.2,29.0 136.8,30.2C137.4,31.3 138.0,32.5 138.6,33.7C139.2,34.9 139.8,36.1 140.4,37.4C141.0,38.6 141.6,39.8 142.2,41.1C142.8,42.4 143.4,43.7 144.0,45.0C144.6,46.3 145.2,47.6 145.8,48.9C146.4,50.2 147.3,52.2 147.6,52.9"/><path d="M94.9,86.0C95.2,85.9 96.1,85.9 96.7,85.6C97.3,85.3 97.9,84.8 98.5,84.2C99.1,83.6 99.7,82.8 100.3,81.8C100.9,80.8 101.5,79.7 102.1,78.4C102.7,77.1 103.3,75.6 103.9,74.0C104.5,72.4 105.1,70.7 105.7,68.9C106.3,67.0 106.9,65.0 107.5,63.0C108.1,61.0 108.7,58.9 109.3,56.7C109.9,54.6 110.5,52.4 111.1,50.2C111.7,48.0 112.3,45.7 112.9,43.6C113.5,41.4 114.1,39.3 114.7,37.2C115.3,35.2 115.9,33.1 116.5,31.3C117.1,29.4 117.7,27.6 118.3,25.9C118.9,24.2 119.5,22.7 120.1,21.3C120.7,19.9 121.3,18.6 121.9,17.5C122.5,16.4 123.1,15.4 123.7,14.6C124.3,13.8 124.9,13.1 125.5,12.6C126.1,12.0 126.7,11.7 127.3,11.4C127.9,11.2 128.5,11.1 129.1,11.1C129.7,11.1 130.3,11.3 130.9,11.5C131.5,11.8 132.1,12.1 132.7,12.6C133.3,13.0 133.9,13.6 134.5,14.2C135.1,14.9 135.7,15.6 136.3,16.4C136.9,17.1 137.5,18.0 138.1,18.9C138.7,19.8 139.3,20.7 139.9,21.7C140.5,22.7 141.1,23.8 141.7,24.9C142.3,26.0 142.9,27.1 143.5,28.2C144.1,29.4 144.7,30.5 145.3,31.7C145.9,32.9 146.5,34.2 147.1,35.4C147.7,36.7 148.3,37.9 148.9,39.2C149.5,40.5 150.1,41.8 150.7,43.1C151.3,44.4 151.9,45.8 152.5,47.1C153.1,48.4 153.7,49.8 154.3,51.2C154.9,52.5 155.5,53.9 156.1,55.3C156.7,56.6 157.3,58.0 157.9,59.4C158.5,60.8 159.1,62.1 159.7,63.5C160.3,64.8 160.9,66.2 161.5,67.5C162.1,68.8 162.7,70.1 163.3,71.3C163.9,72.6 164.8,74.4 165.1,75.0"/><path d="M101.2,84.6C101.5,84.7 102.4,85.1 103.0,85.1C103.6,85.1 104.2,85.0 104.8,84.8C105.4,84.6 106.0,84.3 106.6,83.8C107.2,83.4 107.8,82.8 108.4,82.1C109.0,81.3 109.6,80.5 110.2,79.5C110.8,78.5 111.4,77.4 112.0,76.2C112.6,75.0 113.2,73.7 113.8,72.2C114.4,70.8 115.0,69.3 115.6,67.7C116.2,66.1 116.8,64.3 117.4,62.6C118.0,60.9 118.6,59.0 119.2,57.2C119.8,55.4 120.4,53.5 121.0,51.6C121.6,49.8 122.2,47.9 122.8,46.1C123.4,44.2 124.0,42.4 124.6,40.6C125.2,38.8 125.8,37.1 126.4,35.4C127.0,33.8 127.6,32.2 128.2,30.7C128.8,29.2 129.4,27.8 130.0,26.4C130.6,25.1 131.2,23.9 131.8,22.8C132.4,21.7 133.0,20.7 133.6,19.8C134.2,19.0 134.8,18.2 135.4,17.5C136.0,16.9 136.6,16.4 137.2,15.9C137.8,15.5 138.4,15.2 139.0,15.0C139.6,14.8 140.2,14.7 140.8,14.7C141.4,14.7 142.0,14.8 142.6,15.0C143.2,15.1 143.8,15.4 144.4,15.7C145.0,16.1 145.6,16.5 146.2,17.0C146.8,17.5 147.4,18.0 148.0,18.6C148.6,19.2 149.2,19.9 149.8,20.6C150.4,21.3 151.0,22.1 151.6,22.8C152.2,23.6 152.8,24.5 153.4,25.3C154.0,26.2 154.6,27.1 155.2,28.0C155.8,29.0 156.4,29.9 157.0,30.9C157.6,31.9 158.2,32.9 158.8,33.9C159.4,34.9 160.0,35.9 160.6,37.0C161.2,38.0 161.8,39.1 162.4,40.2C163.0,41.3 163.6,42.4 164.2,43.5C164.8,44.6 165.4,45.7 166.0,46.8C166.6,48.0 167.2,49.1 167.8,50.3C168.4,51.4 169.0,52.6 169.6,53.7C170.2,54.9 171.1,56.6 171.4,57.2"/><path d="M108.0,79.1C108.3,79.5 109.2,80.9 109.8,81.6C110.4,82.3 111.0,82.9 111.6,83.4C112.2,83.9 112.8,84.3 113.4,84.6C114.0,84.9 114.6,85.0 115.2,85.0C115.8,85.0 116.4,84.8 117.0,84.5C117.6,84.2 118.2,83.8 118.8,83.1C119.4,82.5 120.0,81.7 120.6,80.8C121.2,79.9 121.8,78.8 122.4,77.5C123.0,76.3 123.6,74.9 124.2,73.4C124.8,71.9 125.4,70.2 126.0,68.5C126.6,66.8 127.2,64.9 127.8,63.0C128.4,61.1 129.0,59.1 129.6,57.1C130.2,55.1 130.8,53.0 131.4,51.0C132.0,49.0 132.6,46.9 133.2,44.9C133.8,42.9 134.4,40.9 135.0,39.0C135.6,37.1 136.2,35.3 136.8,33.5C137.4,31.8 138.0,30.2 138.6,28.6C139.2,27.1 139.8,25.7 140.4,24.4C141.0,23.2 141.6,22.0 142.2,21.0C142.8,20.0 143.4,19.2 144.0,18.4C144.6,17.7 145.2,17.1 145.8,16.7C146.4,16.2 147.0,15.9 147.6,15.7C148.2,15.5 148.8,15.5 149.4,15.5C150.0,15.6 150.6,15.7 151.2,16.0C151.8,16.2 152.4,16.6 153.0,17.1C153.6,17.5 154.2,18.1 154.8,18.7C155.4,19.3 156.0,20.0 156.6,20.7C157.2,21.4 157.8,22.3 158.4,23.1C159.0,24.0 159.6,24.9 160.2,25.8C160.8,26.7 161.4,27.7 162.0,28.7C162.6,29.8 163.2,30.8 163.8,31.9C164.4,33.0 165.0,34.1 165.6,35.2C166.2,36.3 166.8,37.5 167.4,38.6C168.0,39.8 168.6,41.0 169.2,42.2C169.8,43.4 170.4,44.6 171.0,45.8C171.6,47.0 172.2,48.3 172.8,49.5C173.4,50.8 174.0,52.0 174.6,53.3C175.2,54.6 176.1,56.5 176.4,57.1"/><path d="M119.1,82.0C119.4,82.5 120.3,84.0 120.9,84.9C121.5,85.8 122.1,86.6 122.7,87.2C123.3,87.9 123.9,88.4 124.5,88.8C125.1,89.2 125.7,89.5 126.3,89.5C126.9,89.6 127.5,89.6 128.1,89.3C128.7,89.1 129.3,88.7 129.9,88.1C130.5,87.5 131.1,86.7 131.7,85.8C132.3,84.8 132.9,83.7 133.5,82.4C134.1,81.1 134.7,79.6 135.3,78.0C135.9,76.4 136.5,74.7 137.1,72.8C137.7,70.9 138.3,68.9 138.9,66.8C139.5,64.7 140.1,62.5 140.7,60.3C141.3,58.1 141.9,55.8 142.5,53.5C143.1,51.2 143.7,48.9 144.3,46.6C144.9,44.4 145.5,42.1 146.1,40.0C146.7,37.9 147.3,35.7 147.9,33.8C148.5,31.8 149.1,29.9 149.7,28.2C150.3,26.4 150.9,24.8 151.5,23.3C152.1,21.8 152.7,20.5 153.3,19.3C153.9,18.2 154.5,17.1 155.1,16.3C155.7,15.4 156.3,14.7 156.9,14.2C157.5,13.6 158.1,13.3 158.7,13.0C159.3,12.7 159.9,12.7 160.5,12.7C161.1,12.7 161.7,12.9 162.3,13.1C162.9,13.4 163.5,13.8 164.1,14.3C164.7,14.7 165.3,15.3 165.9,16.0C166.5,16.7 167.1,17.4 167.7,18.3C168.3,19.1 168.9,20.0 169.5,20.9C170.1,21.9 170.7,22.9 171.3,23.9C171.9,25.0 172.5,26.1 173.1,27.2C173.7,28.3 174.3,29.5 174.9,30.7C175.5,31.9 176.1,33.1 176.7,34.4C177.3,35.6 177.9,36.9 178.5,38.2C179.1,39.5 179.7,40.8 180.3,42.2C180.9,43.5 181.5,44.9 182.1,46.3C182.7,47.6 183.3,49.0 183.9,50.4C184.5,51.8 185.4,53.9 185.7,54.7"/><path d="M133.7,85.7C134.0,85.6 134.9,85.3 135.5,84.9C136.1,84.5 136.7,84.0 137.3,83.3C137.9,82.6 138.5,81.8 139.1,80.8C139.7,79.8 140.3,78.7 140.9,77.5C141.5,76.2 142.1,74.8 142.7,73.3C143.3,71.8 143.9,70.2 144.5,68.5C145.1,66.8 145.7,64.9 146.3,63.1C146.9,61.2 147.5,59.3 148.1,57.3C148.7,55.3 149.3,53.3 149.9,51.3C150.5,49.3 151.1,47.2 151.7,45.2C152.3,43.3 152.9,41.3 153.5,39.4C154.1,37.5 154.7,35.6 155.3,33.8C155.9,32.0 156.5,30.3 157.1,28.7C157.7,27.2 158.3,25.6 158.9,24.3C159.5,22.9 160.1,21.6 160.7,20.5C161.3,19.4 161.9,18.4 162.5,17.5C163.1,16.6 163.7,15.8 164.3,15.2C164.9,14.6 165.5,14.1 166.1,13.7C166.7,13.4 167.3,13.1 167.9,13.0C168.5,12.8 169.1,12.8 169.7,12.9C170.3,13.0 170.9,13.2 171.5,13.5C172.1,13.7 172.7,14.1 173.3,14.6C173.9,15.0 174.5,15.5 175.1,16.1C175.7,16.7 176.3,17.4 176.9,18.1C177.5,18.9 178.1,19.6 178.7,20.5C179.3,21.3 179.9,22.2 180.5,23.1C181.1,24.0 181.7,25.0 182.3,25.9C182.9,26.9 183.5,27.9 184.1,29.0C184.7,30.0 185.3,31.1 185.9,32.2C186.5,33.3 187.1,34.4 187.7,35.5C188.3,36.6 188.9,37.8 189.5,39.0C190.1,40.1 190.7,41.3 191.3,42.5C191.9,43.7 192.5,44.9 193.1,46.1C193.7,47.3 194.3,48.6 194.9,49.8C195.5,51.1 196.1,52.3 196.7,53.6C197.3,54.8 197.9,56.1 198.5,57.3C199.1,58.6 199.7,59.9 200.3,61.1C200.9,62.4 201.5,63.6 202.1,64.8C202.7,66.1 203.3,67.3 203.9,68.5C204.5,69.7 205.1,70.9 205.7,72.0C206.3,73.1 207.2,74.7 207.5,75.3"/><path d="M145.3,88.7C145.6,88.4 146.5,87.6 147.1,86.9C147.7,86.1 148.3,85.2 148.9,84.1C149.5,83.0 150.1,81.7 150.7,80.4C151.3,79.0 151.9,77.5 152.5,75.9C153.1,74.2 153.7,72.5 154.3,70.6C154.9,68.8 155.5,66.8 156.1,64.8C156.7,62.9 157.3,60.8 157.9,58.7C158.5,56.6 159.1,54.5 159.7,52.4C160.3,50.3 160.9,48.2 161.5,46.1C162.1,44.1 162.7,42.0 163.3,40.1C163.9,38.2 164.5,36.3 165.1,34.5C165.7,32.7 166.3,31.0 166.9,29.5C167.5,27.9 168.1,26.5 168.7,25.2C169.3,23.8 169.9,22.7 170.5,21.6C171.1,20.6 171.7,19.7 172.3,18.9C172.9,18.1 173.5,17.5 174.1,17.0C174.7,16.5 175.3,16.2 175.9,15.9C176.5,15.7 177.1,15.6 177.7,15.6C178.3,15.6 178.9,15.7 179.5,16.0C180.1,16.2 180.7,16.5 181.3,17.0C181.9,17.4 182.5,17.9 183.1,18.5C183.7,19.1 184.3,19.7 184.9,20.4C185.5,21.2 186.1,22.0 186.7,22.8C187.3,23.7 187.9,24.6 188.5,25.5C189.1,26.4 189.7,27.4 190.3,28.4C190.9,29.4 191.5,30.5 192.1,31.6C192.7,32.7 193.3,33.8 193.9,34.9C194.5,36.0 195.1,37.2 195.7,38.4C196.3,39.6 196.9,40.8 197.5,42.0C198.1,43.2 198.7,44.4 199.3,45.7C199.9,46.9 200.5,48.2 201.1,49.5C201.7,50.7 202.3,52.0 202.9,53.3C203.5,54.6 204.4,56.6 204.7,57.2"/><path d="M143.4,81.2C143.7,81.7 144.6,83.4 145.2,84.3C145.8,85.3 146.4,86.2 147.0,87.0C147.6,87.7 148.2,88.4 148.8,89.0C149.4,89.5 150.0,90.0 150.6,90.3C151.2,90.5 151.8,90.7 152.4,90.7C153.0,90.7 153.6,90.5 154.2,90.2C154.8,89.9 155.4,89.4 156.0,88.7C156.6,88.0 157.2,87.2 157.8,86.2C158.4,85.2 159.0,84.0 159.6,82.7C160.2,81.3 160.8,79.8 161.4,78.2C162.0,76.6 162.6,74.8 163.2,72.9C163.8,71.1 164.4,69.1 165.0,67.0C165.6,64.9 166.2,62.8 166.8,60.6C167.4,58.4 168.0,56.1 168.6,53.9C169.2,51.7 169.8,49.4 170.4,47.2C171.0,45.0 171.6,42.8 172.2,40.6C172.8,38.5 173.4,36.5 174.0,34.5C174.6,32.6 175.2,30.7 175.8,28.9C176.4,27.2 177.0,25.6 177.6,24.1C178.2,22.6 178.8,21.3 179.4,20.1C180.0,18.9 180.6,17.8 181.2,16.9C181.8,16.0 182.4,15.3 183.0,14.7C183.6,14.1 184.2,13.7 184.8,13.3C185.4,13.0 186.0,12.9 186.6,12.8C187.2,12.8 187.8,12.8 188.4,13.0C189.0,13.2 189.6,13.5 190.2,14.0C190.8,14.4 191.4,14.9 192.0,15.5C192.6,16.1 193.2,16.7 193.8,17.5C194.4,18.2 195.0,19.1 195.6,19.9C196.2,20.8 196.8,21.8 197.4,22.7C198.0,23.7 198.6,24.8 199.2,25.8C199.8,26.9 200.4,28.0 201.0,29.2C201.6,30.3 202.2,31.5 202.8,32.7C203.4,33.9 204.0,35.1 204.6,36.4C205.2,37.6 205.8,38.9 206.4,40.2C207.0,41.5 207.6,42.8 208.2,44.1C208.8,45.5 209.4,46.8 210.0,48.2C210.6,49.5 211.2,50.9 211.8,52.3C212.4,53.7 213.0,55.0 213.6,56.4C214.2,57.8 214.8,59.2 215.4,60.6C216.0,62.0 216.9,64.1 217.2,64.8"/><path d="M165.5,87.3C165.8,87.1 166.7,86.7 167.3,86.1C167.9,85.5 168.5,84.7 169.1,83.7C169.7,82.8 170.3,81.7 170.9,80.4C171.5,79.1 172.1,77.6 172.7,76.0C173.3,74.4 173.9,72.6 174.5,70.8C175.1,68.9 175.7,66.9 176.3,64.8C176.9,62.8 177.5,60.6 178.1,58.4C178.7,56.2 179.3,53.9 179.9,51.7C180.5,49.4 181.1,47.1 181.7,44.9C182.3,42.7 182.9,40.5 183.5,38.4C184.1,36.3 184.7,34.2 185.3,32.3C185.9,30.4 186.5,28.5 187.1,26.8C187.7,25.1 188.3,23.6 188.9,22.1C189.5,20.7 190.1,19.4 190.7,18.3C191.3,17.2 191.9,16.2 192.5,15.4C193.1,14.6 193.7,14.0 194.3,13.5C194.9,13.0 195.5,12.6 196.1,12.4C196.7,12.2 197.3,12.2 197.9,12.2C198.5,12.3 199.1,12.5 199.7,12.8C200.3,13.1 200.9,13.5 201.5,14.0C202.1,14.5 202.7,15.1 203.3,15.8C203.9,16.5 204.5,17.2 205.1,18.1C205.7,18.9 206.3,19.8 206.9,20.8C207.5,21.7 208.1,22.7 208.7,23.8C209.3,24.8 209.9,25.9 210.5,27.0C211.1,28.2 211.7,29.3 212.3,30.5C212.9,31.7 213.5,33.0 214.1,34.2C214.7,35.4 215.3,36.7 215.9,38.0C216.5,39.3 217.4,41.3 217.7,41.9"/><path d="M169.1,77.9C169.4,78.3 170.3,79.9 170.9,80.7C171.5,81.5 172.1,82.3 172.7,82.9C173.3,83.5 173.9,84.0 174.5,84.4C175.1,84.7 175.7,85.0 176.3,85.0C176.9,85.0 177.5,84.9 178.1,84.6C178.7,84.4 179.3,83.9 179.9,83.3C180.5,82.6 181.1,81.8 181.7,80.8C182.3,79.8 182.9,78.6 183.5,77.3C184.1,76.0 184.7,74.4 185.3,72.8C185.9,71.2 186.5,69.4 187.1,67.5C187.7,65.6 188.3,63.5 188.9,61.5C189.5,59.4 190.1,57.2 190.7,55.0C191.3,52.8 191.9,50.6 192.5,48.3C193.1,46.1 193.7,43.9 194.3,41.7C194.9,39.6 195.5,37.4 196.1,35.4C196.7,33.4 197.3,31.4 197.9,29.6C198.5,27.8 199.1,26.0 199.7,24.5C200.3,22.9 200.9,21.5 201.5,20.2C202.1,18.9 202.7,17.8 203.3,16.8C203.9,15.8 204.5,15.0 205.1,14.3C205.7,13.7 206.3,13.2 206.9,12.8C207.5,12.4 208.1,12.2 208.7,12.2C209.3,12.1 209.9,12.2 210.5,12.3C211.1,12.5 211.7,12.8 212.3,13.2C212.9,13.6 213.5,14.2 214.1,14.8C214.7,15.4 215.3,16.1 215.9,16.8C216.5,17.6 217.4,18.9 217.7,19.3"/><path d="M181.3,80.3C181.6,80.6 182.5,81.9 183.1,82.5C183.7,83.1 184.3,83.6 184.9,84.0C185.5,84.4 186.1,84.6 186.7,84.7C187.3,84.8 187.9,84.8 188.5,84.5C189.1,84.3 189.7,83.9 190.3,83.4C190.9,82.8 191.5,82.1 192.1,81.2C192.7,80.3 193.3,79.2 193.9,78.0C194.5,76.8 195.1,75.4 195.7,73.8C196.3,72.3 196.9,70.6 197.5,68.9C198.1,67.1 198.7,65.2 199.3,63.2C199.9,61.3 200.5,59.2 201.1,57.1C201.7,55.0 202.3,52.8 202.9,50.7C203.5,48.6 204.1,46.4 204.7,44.3C205.3,42.2 205.9,40.1 206.5,38.2C207.1,36.2 207.7,34.2 208.3,32.4C208.9,30.6 209.5,28.9 210.1,27.3C210.7,25.7 211.3,24.3 211.9,23.0C212.5,21.6 213.1,20.5 213.7,19.4C214.3,18.4 214.9,17.5 215.5,16.8C216.1,16.1 217.0,15.4 217.3,15.1"/><path d="M188.0,81.9C188.3,82.2 189.2,83.4 189.8,84.0C190.4,84.6 191.0,85.2 191.6,85.6C192.2,86.0 192.8,86.4 193.4,86.5C194.0,86.7 194.6,86.8 195.2,86.8C195.8,86.7 196.4,86.5 197.0,86.2C197.6,85.9 198.2,85.4 198.8,84.8C199.4,84.2 200.0,83.4 200.6,82.5C201.2,81.6 201.8,80.6 202.4,79.4C203.0,78.2 203.6,76.9 204.2,75.5C204.8,74.1 205.4,72.5 206.0,70.9C206.6,69.3 207.2,67.5 207.8,65.7C208.4,63.9 209.0,62.0 209.6,60.1C210.2,58.2 210.8,56.2 211.4,54.2C212.0,52.2 212.6,50.1 213.2,48.1C213.8,46.1 214.4,44.1 215.0,42.2C215.6,40.2 216.2,38.3 216.8,36.4C217.4,34.6 218.3,32.0 218.6,31.1"/><path d="M200.4,79.5C200.7,79.9 201.6,81.2 202.2,82.0C202.8,82.7 203.4,83.4 204.0,83.9C204.6,84.5 205.2,84.9 205.8,85.2C206.4,85.5 207.0,85.6 207.6,85.6C208.2,85.6 208.8,85.5 209.4,85.2C210.0,84.9 210.6,84.5 211.2,83.9C211.8,83.3 212.4,82.5 213.0,81.6C213.6,80.7 214.2,79.6 214.8,78.4C215.4,77.1 216.0,75.7 216.6,74.2C217.2,72.7 218.1,70.1 218.4,69.3"/></g>
<g fill="none" stroke="#ffff00" stroke-width="2.0" stroke-linecap="round" stroke-linejoin="round"><path d="M0.0,43.0C2.2,42.3 9.0,40.1 13.5,38.7C18.0,37.4 21.3,35.9 27.0,34.9C32.7,33.9 42.6,33.1 47.7,32.9C52.8,32.7 54.2,33.4 57.6,33.9C61.0,34.4 64.8,35.0 68.4,35.7C72.0,36.4 75.6,37.3 79.2,38.2C82.8,39.1 86.4,40.1 90.0,41.0C93.6,41.9 97.0,43.0 100.8,43.8C104.5,44.5 108.3,44.8 112.5,45.5C116.7,46.3 121.5,47.2 126.0,48.1C130.5,48.9 135.0,49.5 139.5,50.6C144.0,51.7 148.5,53.1 153.0,54.4C157.5,55.7 162.0,57.1 166.5,58.2C171.0,59.2 174.8,60.1 180.0,60.7C185.2,61.4 192.0,62.0 198.0,62.0C204.0,62.0 213.0,60.9 216.0,60.7"/><path d="M0.0,52.1C0.9,51.7 3.0,50.8 5.4,49.8C7.8,48.9 10.8,47.1 14.4,46.3C18.0,45.5 21.9,45.2 27.0,45.0C32.1,44.8 39.9,45.0 45.0,45.0C50.1,45.0 53.7,45.2 57.6,45.0C61.5,44.8 64.8,44.6 68.4,43.8C72.0,43.0 75.6,41.4 79.2,40.2C82.8,39.0 86.4,37.5 90.0,36.4C93.6,35.4 97.0,34.5 100.8,33.9C104.5,33.3 108.8,32.9 112.5,32.9C116.3,32.9 119.7,33.4 123.3,33.9C126.9,34.4 130.5,35.0 134.1,35.7C137.7,36.4 141.0,37.3 144.9,38.2C148.8,39.1 153.2,39.8 157.5,41.0C161.8,42.2 165.8,44.1 171.0,45.5C176.2,46.9 181.5,48.1 189.0,49.3C196.5,50.6 211.5,52.5 216.0,53.1"/><path d="M0.0,64.3C2.4,64.8 9.6,67.2 14.4,67.3C19.2,67.4 24.0,66.1 28.8,65.0C33.6,63.9 38.4,62.0 43.2,60.7C48.0,59.5 53.4,58.5 57.6,57.4C61.8,56.4 64.8,55.4 68.4,54.4C72.0,53.3 75.0,52.4 79.2,51.1C83.4,49.8 88.1,47.8 93.6,46.8C99.2,45.8 107.1,45.3 112.5,45.0C117.9,44.7 122.0,45.2 126.0,45.0C130.1,44.9 133.3,44.7 136.8,44.3C140.2,43.8 143.4,43.1 146.7,42.3C150.0,41.4 151.6,40.8 156.6,39.5C161.6,38.2 170.9,35.6 176.4,34.4C182.0,33.2 185.0,32.7 189.9,32.4C194.9,32.0 201.8,32.2 206.1,32.4C210.4,32.6 214.3,33.2 216.0,33.4"/><path d="M0.0,68.3C2.4,68.0 9.6,67.1 14.4,66.3C19.2,65.5 24.0,64.6 28.8,63.5C33.6,62.4 39.6,60.3 43.2,59.5C46.8,58.7 48.0,58.5 50.4,58.7C52.8,58.9 54.6,59.7 57.6,60.7C60.6,61.7 64.8,63.7 68.4,64.8C72.0,65.9 75.6,66.9 79.2,67.3C82.8,67.7 86.4,67.6 90.0,67.3C93.6,67.0 97.0,66.2 100.8,65.3C104.5,64.3 108.8,62.9 112.5,61.7C116.3,60.6 119.7,59.4 123.3,58.2C126.9,57.0 130.5,55.4 134.1,54.4C137.7,53.3 141.0,52.9 144.9,51.9C148.8,50.8 153.2,49.3 157.5,48.1C161.8,46.8 166.5,45.3 171.0,44.3C175.5,43.2 180.0,42.4 184.5,41.7C189.0,41.1 192.8,40.7 198.0,40.5C203.2,40.3 213.0,40.5 216.0,40.5"/><path d="M108.0,50.6C110.5,51.4 119.0,54.3 123.3,55.7C127.6,57.1 130.5,57.9 134.1,58.9C137.7,60.0 141.0,60.7 144.9,61.7C148.8,62.8 153.9,64.3 157.5,65.3C161.1,66.2 161.7,67.2 166.5,67.3C171.3,67.4 179.7,66.7 186.3,65.8C192.9,64.9 201.1,63.0 206.1,62.0C211.1,61.0 214.3,60.3 216.0,60.0"/></g>
<g fill="none" stroke="#ff0000" stroke-width="2.1" stroke-linecap="round" stroke-linejoin="round"><path d="M0.0,36.7C1.7,37.2 7.4,39.0 9.9,39.7C12.4,40.5 14.4,41.0 15.3,41.2"/><path d="M63.0,60.2C64.5,60.7 69.6,62.3 72.0,63.2C74.4,64.2 75.0,65.1 77.4,65.8C79.8,66.5 83.5,66.9 86.4,67.3C89.2,67.7 91.7,68.1 94.5,68.1C97.3,68.1 100.7,67.8 103.5,67.3C106.3,66.8 108.8,66.1 111.6,65.3C114.5,64.5 117.8,63.6 120.6,62.5C123.5,61.4 126.0,59.9 128.7,58.7C131.4,57.5 134.2,56.9 136.8,55.4C139.3,53.9 140.8,51.6 144.0,49.6C147.2,47.6 151.8,45.5 155.7,43.5C159.6,41.5 163.5,39.3 167.4,37.7C171.3,36.1 175.7,35.0 179.1,34.2C182.5,33.4 184.6,33.2 188.1,32.9C191.5,32.6 196.3,32.3 199.8,32.4C203.2,32.5 206.1,32.9 208.8,33.4C211.5,33.9 214.8,35.1 216.0,35.4"/><path d="M72.0,69.8C72.9,71.6 75.8,77.9 77.4,80.2C79.1,82.5 80.4,82.7 81.9,83.5C83.4,84.3 85.0,85.0 86.4,85.0C87.8,85.0 88.7,84.5 90.0,83.5C91.3,82.4 93.0,80.7 94.5,78.7C96.0,76.7 97.5,74.2 99.0,71.6C100.5,69.0 102.0,65.9 103.5,63.0C105.0,60.1 106.0,57.3 108.0,54.4C110.0,51.5 112.8,49.4 115.2,45.5C117.6,41.7 120.0,35.1 122.4,31.1C124.8,27.1 127.6,23.6 129.6,21.5C131.5,19.4 132.6,18.8 134.1,18.5C135.6,18.2 137.1,19.0 138.6,19.7C140.1,20.5 141.8,21.8 143.1,22.8C144.4,23.8 146.1,25.3 146.7,25.8"/><path d="M108.9,83.5C110.2,83.2 114.4,83.6 117.0,81.7C119.5,79.8 121.8,75.7 124.2,72.1C126.6,68.5 129.0,64.6 131.4,60.2C133.8,55.8 136.2,50.4 138.6,45.5C141.0,40.7 143.4,35.5 145.8,31.1C148.2,26.7 150.9,21.8 153.0,19.0C155.1,16.2 156.4,14.6 158.4,14.4C160.4,14.2 162.9,16.5 164.7,17.7C166.5,18.9 167.8,20.4 169.2,21.5C170.5,22.6 171.4,23.5 172.8,24.5C174.1,25.6 176.2,27.5 177.3,27.8C178.3,28.2 178.8,26.8 179.1,26.6"/><path d="M119.7,68.3C120.0,68.9 120.5,70.1 121.5,71.6C122.5,73.1 124.4,75.5 126.0,77.4C127.7,79.3 129.6,81.7 131.4,83.0C133.2,84.2 134.8,84.5 136.8,85.0C138.8,85.5 141.3,86.0 143.1,85.8C144.9,85.5 146.1,85.3 147.6,83.5C149.1,81.6 150.6,77.8 152.1,74.6C153.6,71.5 155.2,67.6 156.6,64.5C157.9,61.4 159.0,59.2 160.2,55.9C161.4,52.6 162.6,47.8 163.8,44.8C165.0,41.7 166.2,39.8 167.4,37.7C168.6,35.5 169.8,33.4 171.0,31.9C172.2,30.3 174.0,28.9 174.6,28.3"/></g>
<line x1="0" y1="50.60" x2="216.00" y2="50.60" stroke="#1020e0" stroke-width="2.0"/>
<rect x="9.72" y="0" width="1.98" height="101.20" fill="#fff"/>
<circle cx="210.0" cy="4.3" r="1.2" fill="#ffff00"/>
<circle cx="210.0" cy="8.1" r="1.2" fill="#00ff00"/>
<circle cx="210.0" cy="94.9" r="1.2" fill="#ffff00"/>
</g>
</defs>
<svg x="92.40" y="46.40" width="216.00" height="101.20" viewBox="0 0 216.00 101.20" overflow="hidden"><use href="#row0"/></svg>
<svg x="318.90" y="46.40" width="216.00" height="101.20" viewBox="0 0 216.00 101.20" overflow="hidden"><use href="#row0"/></svg>
<svg x="92.40" y="160.40" width="216.00" height="101.20" viewBox="0 0 216.00 101.20" overflow="hidden"><use href="#row1"/></svg>
<svg x="318.90" y="160.40" width="216.00" height="101.20" viewBox="0 0 216.00 101.20" overflow="hidden"><use href="#row1"/></svg>
<svg x="92.40" y="274.20" width="216.00" height="101.20" viewBox="0 0 216.00 101.20" overflow="hidden"><use href="#row2"/></svg>
<svg x="318.90" y="274.20" width="216.00" height="101.20" viewBox="0 0 216.00 101.20" overflow="hidden"><use href="#row2"/></svg>
<g stroke="#666" stroke-width="1.1" fill="none">
<line x1="92.40" y1="147.60" x2="92.40" y2="143.60"/>
<line x1="92.40" y1="46.40" x2="92.40" y2="50.40"/>
<line x1="110.40" y1="147.60" x2="110.40" y2="145.10"/>
<line x1="110.40" y1="46.40" x2="110.40" y2="48.90"/>
<line x1="128.40" y1="147.60" x2="128.40" y2="143.60"/>
<line x1="128.40" y1="46.40" x2="128.40" y2="50.40"/>
<line x1="146.40" y1="147.60" x2="146.40" y2="145.10"/>
<line x1="146.40" y1="46.40" x2="146.40" y2="48.90"/>
<line x1="164.40" y1="147.60" x2="164.40" y2="143.60"/>
<line x1="164.40" y1="46.40" x2="164.40" y2="50.40"/>
<line x1="182.40" y1="147.60" x2="182.40" y2="145.10"/>
<line x1="182.40" y1="46.40" x2="182.40" y2="48.90"/>
<line x1="200.40" y1="147.60" x2="200.40" y2="143.60"/>
<line x1="200.40" y1="46.40" x2="200.40" y2="50.40"/>
<line x1="218.40" y1="147.60" x2="218.40" y2="145.10"/>
<line x1="218.40" y1="46.40" x2="218.40" y2="48.90"/>
<line x1="236.40" y1="147.60" x2="236.40" y2="143.60"/>
<line x1="236.40" y1="46.40" x2="236.40" y2="50.40"/>
<line x1="254.40" y1="147.60" x2="254.40" y2="145.10"/>
<line x1="254.40" y1="46.40" x2="254.40" y2="48.90"/>
<line x1="272.40" y1="147.60" x2="272.40" y2="143.60"/>
<line x1="272.40" y1="46.40" x2="272.40" y2="50.40"/>
<line x1="290.40" y1="147.60" x2="290.40" y2="145.10"/>
<line x1="290.40" y1="46.40" x2="290.40" y2="48.90"/>
<line x1="308.40" y1="147.60" x2="308.40" y2="143.60"/>
<line x1="308.40" y1="46.40" x2="308.40" y2="50.40"/>
<line x1="92.40" y1="147.60" x2="96.40" y2="147.60"/>
<line x1="308.40" y1="147.60" x2="304.40" y2="147.60"/>
<line x1="92.40" y1="134.95" x2="94.90" y2="134.95"/>
<line x1="308.40" y1="134.95" x2="305.90" y2="134.95"/>
<line x1="92.40" y1="122.30" x2="96.40" y2="122.30"/>
<line x1="308.40" y1="122.30" x2="304.40" y2="122.30"/>
<line x1="92.40" y1="109.65" x2="94.90" y2="109.65"/>
<line x1="308.40" y1="109.65" x2="305.90" y2="109.65"/>
<line x1="92.40" y1="97.00" x2="96.40" y2="97.00"/>
<line x1="308.40" y1="97.00" x2="304.40" y2="97.00"/>
<line x1="92.40" y1="84.35" x2="94.90" y2="84.35"/>
<line x1="308.40" y1="84.35" x2="305.90" y2="84.35"/>
<line x1="92.40" y1="71.70" x2="96.40" y2="71.70"/>
<line x1="308.40" y1="71.70" x2="304.40" y2="71.70"/>
<line x1="92.40" y1="59.05" x2="94.90" y2="59.05"/>
<line x1="308.40" y1="59.05" x2="305.90" y2="59.05"/>
<line x1="92.40" y1="46.40" x2="96.40" y2="46.40"/>
<line x1="308.40" y1="46.40" x2="304.40" y2="46.40"/>
<rect x="92.40" y="46.40" width="216.00" height="101.20" fill="none"/>
<line x1="318.90" y1="147.60" x2="318.90" y2="143.60"/>
<line x1="318.90" y1="46.40" x2="318.90" y2="50.40"/>
<line x1="336.90" y1="147.60" x2="336.90" y2="145.10"/>
<line x1="336.90" y1="46.40" x2="336.90" y2="48.90"/>
<line x1="354.90" y1="147.60" x2="354.90" y2="143.60"/>
<line x1="354.90" y1="46.40" x2="354.90" y2="50.40"/>
<line x1="372.90" y1="147.60" x2="372.90" y2="145.10"/>
<line x1="372.90" y1="46.40" x2="372.90" y2="48.90"/>
<line x1="390.90" y1="147.60" x2="390.90" y2="143.60"/>
<line x1="390.90" y1="46.40" x2="390.90" y2="50.40"/>
<line x1="408.90" y1="147.60" x2="408.90" y2="145.10"/>
<line x1="408.90" y1="46.40" x2="408.90" y2="48.90"/>
<line x1="426.90" y1="147.60" x2="426.90" y2="143.60"/>
<line x1="426.90" y1="46.40" x2="426.90" y2="50.40"/>
<line x1="444.90" y1="147.60" x2="444.90" y2="145.10"/>
<line x1="444.90" y1="46.40" x2="444.90" y2="48.90"/>
<line x1="462.90" y1="147.60" x2="462.90" y2="143.60"/>
<line x1="462.90" y1="46.40" x2="462.90" y2="50.40"/>
<line x1="480.90" y1="147.60" x2="480.90" y2="145.10"/>
<line x1="480.90" y1="46.40" x2="480.90" y2="48.90"/>
<line x1="498.90" y1="147.60" x2="498.90" y2="143.60"/>
<line x1="498.90" y1="46.40" x2="498.90" y2="50.40"/>
<line x1="516.90" y1="147.60" x2="516.90" y2="145.10"/>
<line x1="516.90" y1="46.40" x2="516.90" y2="48.90"/>
<line x1="534.90" y1="147.60" x2="534.90" y2="143.60"/>
<line x1="534.90" y1="46.40" x2="534.90" y2="50.40"/>
<line x1="318.90" y1="147.60" x2="322.90" y2="147.60"/>
<line x1="534.90" y1="147.60" x2="530.90" y2="147.60"/>
<line x1="318.90" y1="134.95" x2="321.40" y2="134.95"/>
<line x1="534.90" y1="134.95" x2="532.40" y2="134.95"/>
<line x1="318.90" y1="122.30" x2="322.90" y2="122.30"/>
<line x1="534.90" y1="122.30" x2="530.90" y2="122.30"/>
<line x1="318.90" y1="109.65" x2="321.40" y2="109.65"/>
<line x1="534.90" y1="109.65" x2="532.40" y2="109.65"/>
<line x1="318.90" y1="97.00" x2="322.90" y2="97.00"/>
<line x1="534.90" y1="97.00" x2="530.90" y2="97.00"/>
<line x1="318.90" y1="84.35" x2="321.40" y2="84.35"/>
<line x1="534.90" y1="84.35" x2="532.40" y2="84.35"/>
<line x1="318.90" y1="71.70" x2="322.90" y2="71.70"/>
<line x1="534.90" y1="71.70" x2="530.90" y2="71.70"/>
<line x1="318.90" y1="59.05" x2="321.40" y2="59.05"/>
<line x1="534.90" y1="59.05" x2="532.40" y2="59.05"/>
<line x1="318.90" y1="46.40" x2="322.90" y2="46.40"/>
<line x1="534.90" y1="46.40" x2="530.90" y2="46.40"/>
<rect x="318.90" y="46.40" width="216.00" height="101.20" fill="none"/>
<line x1="92.40" y1="261.60" x2="92.40" y2="257.60"/>
<line x1="92.40" y1="160.40" x2="92.40" y2="164.40"/>
<line x1="110.40" y1="261.60" x2="110.40" y2="259.10"/>
<line x1="110.40" y1="160.40" x2="110.40" y2="162.90"/>
<line x1="128.40" y1="261.60" x2="128.40" y2="257.60"/>
<line x1="128.40" y1="160.40" x2="128.40" y2="164.40"/>
<line x1="146.40" y1="261.60" x2="146.40" y2="259.10"/>
<line x1="146.40" y1="160.40" x2="146.40" y2="162.90"/>
<line x1="164.40" y1="261.60" x2="164.40" y2="257.60"/>
<line x1="164.40" y1="160.40" x2="164.40" y2="164.40"/>
<line x1="182.40" y1="261.60" x2="182.40" y2="259.10"/>
<line x1="182.40" y1="160.40" x2="182.40" y2="162.90"/>
<line x1="200.40" y1="261.60" x2="200.40" y2="257.60"/>
<line x1="200.40" y1="160.40" x2="200.40" y2="164.40"/>
<line x1="218.40" y1="261.60" x2="218.40" y2="259.10"/>
<line x1="218.40" y1="160.40" x2="218.40" y2="162.90"/>
<line x1="236.40" y1="261.60" x2="236.40" y2="257.60"/>
<line x1="236.40" y1="160.40" x2="236.40" y2="164.40"/>
<line x1="254.40" y1="261.60" x2="254.40" y2="259.10"/>
<line x1="254.40" y1="160.40" x2="254.40" y2="162.90"/>
<line x1="272.40" y1="261.60" x2="272.40" y2="257.60"/>
<line x1="272.40" y1="160.40" x2="272.40" y2="164.40"/>
<line x1="290.40" y1="261.60" x2="290.40" y2="259.10"/>
<line x1="290.40" y1="160.40" x2="290.40" y2="162.90"/>
<line x1="308.40" y1="261.60" x2="308.40" y2="257.60"/>
<line x1="308.40" y1="160.40" x2="308.40" y2="164.40"/>
<line x1="92.40" y1="261.60" x2="96.40" y2="261.60"/>
<line x1="308.40" y1="261.60" x2="304.40" y2="261.60"/>
<line x1="92.40" y1="248.95" x2="94.90" y2="248.95"/>
<line x1="308.40" y1="248.95" x2="305.90" y2="248.95"/>
<line x1="92.40" y1="236.30" x2="96.40" y2="236.30"/>
<line x1="308.40" y1="236.30" x2="304.40" y2="236.30"/>
<line x1="92.40" y1="223.65" x2="94.90" y2="223.65"/>
<line x1="308.40" y1="223.65" x2="305.90" y2="223.65"/>
<line x1="92.40" y1="211.00" x2="96.40" y2="211.00"/>
<line x1="308.40" y1="211.00" x2="304.40" y2="211.00"/>
<line x1="92.40" y1="198.35" x2="94.90" y2="198.35"/>
<line x1="308.40" y1="198.35" x2="305.90" y2="198.35"/>
<line x1="92.40" y1="185.70" x2="96.40" y2="185.70"/>
<line x1="308.40" y1="185.70" x2="304.40" y2="185.70"/>
<line x1="92.40" y1="173.05" x2="94.90" y2="173.05"/>
<line x1="308.40" y1="173.05" x2="305.90" y2="173.05"/>
<line x1="92.40" y1="160.40" x2="96.40" y2="160.40"/>
<line x1="308.40" y1="160.40" x2="304.40" y2="160.40"/>
<rect x="92.40" y="160.40" width="216.00" height="101.20" fill="none"/>
<line x1="318.90" y1="261.60" x2="318.90" y2="257.60"/>
<line x1="318.90" y1="160.40" x2="318.90" y2="164.40"/>
<line x1="336.90" y1="261.60" x2="336.90" y2="259.10"/>
<line x1="336.90" y1="160.40" x2="336.90" y2="162.90"/>
<line x1="354.90" y1="261.60" x2="354.90" y2="257.60"/>
<line x1="354.90" y1="160.40" x2="354.90" y2="164.40"/>
<line x1="372.90" y1="261.60" x2="372.90" y2="259.10"/>
<line x1="372.90" y1="160.40" x2="372.90" y2="162.90"/>
<line x1="390.90" y1="261.60" x2="390.90" y2="257.60"/>
<line x1="390.90" y1="160.40" x2="390.90" y2="164.40"/>
<line x1="408.90" y1="261.60" x2="408.90" y2="259.10"/>
<line x1="408.90" y1="160.40" x2="408.90" y2="162.90"/>
<line x1="426.90" y1="261.60" x2="426.90" y2="257.60"/>
<line x1="426.90" y1="160.40" x2="426.90" y2="164.40"/>
<line x1="444.90" y1="261.60" x2="444.90" y2="259.10"/>
<line x1="444.90" y1="160.40" x2="444.90" y2="162.90"/>
<line x1="462.90" y1="261.60" x2="462.90" y2="257.60"/>
<line x1="462.90" y1="160.40" x2="462.90" y2="164.40"/>
<line x1="480.90" y1="261.60" x2="480.90" y2="259.10"/>
<line x1="480.90" y1="160.40" x2="480.90" y2="162.90"/>
<line x1="498.90" y1="261.60" x2="498.90" y2="257.60"/>
<line x1="498.90" y1="160.40" x2="498.90" y2="164.40"/>
<line x1="516.90" y1="261.60" x2="516.90" y2="259.10"/>
<line x1="516.90" y1="160.40" x2="516.90" y2="162.90"/>
<line x1="534.90" y1="261.60" x2="534.90" y2="257.60"/>
<line x1="534.90" y1="160.40" x2="534.90" y2="164.40"/>
<line x1="318.90" y1="261.60" x2="322.90" y2="261.60"/>
<line x1="534.90" y1="261.60" x2="530.90" y2="261.60"/>
<line x1="318.90" y1="248.95" x2="321.40" y2="248.95"/>
<line x1="534.90" y1="248.95" x2="532.40" y2="248.95"/>
<line x1="318.90" y1="236.30" x2="322.90" y2="236.30"/>
<line x1="534.90" y1="236.30" x2="530.90" y2="236.30"/>
<line x1="318.90" y1="223.65" x2="321.40" y2="223.65"/>
<line x1="534.90" y1="223.65" x2="532.40" y2="223.65"/>
<line x1="318.90" y1="211.00" x2="322.90" y2="211.00"/>
<line x1="534.90" y1="211.00" x2="530.90" y2="211.00"/>
<line x1="318.90" y1="198.35" x2="321.40" y2="198.35"/>
<line x1="534.90" y1="198.35" x2="532.40" y2="198.35"/>
<line x1="318.90" y1="185.70" x2="322.90" y2="185.70"/>
<line x1="534.90" y1="185.70" x2="530.90" y2="185.70"/>
<line x1="318.90" y1="173.05" x2="321.40" y2="173.05"/>
<line x1="534.90" y1="173.05" x2="532.40" y2="173.05"/>
<line x1="318.90" y1="160.40" x2="322.90" y2="160.40"/>
<line x1="534.90" y1="160.40" x2="530.90" y2="160.40"/>
<rect x="318.90" y="160.40" width="216.00" height="101.20" fill="none"/>
<line x1="92.40" y1="375.40" x2="92.40" y2="371.40"/>
<line x1="92.40" y1="274.20" x2="92.40" y2="278.20"/>
<line x1="110.40" y1="375.40" x2="110.40" y2="372.90"/>
<line x1="110.40" y1="274.20" x2="110.40" y2="276.70"/>
<line x1="128.40" y1="375.40" x2="128.40" y2="371.40"/>
<line x1="128.40" y1="274.20" x2="128.40" y2="278.20"/>
<line x1="146.40" y1="375.40" x2="146.40" y2="372.90"/>
<line x1="146.40" y1="274.20" x2="146.40" y2="276.70"/>
<line x1="164.40" y1="375.40" x2="164.40" y2="371.40"/>
<line x1="164.40" y1="274.20" x2="164.40" y2="278.20"/>
<line x1="182.40" y1="375.40" x2="182.40" y2="372.90"/>
<line x1="182.40" y1="274.20" x2="182.40" y2="276.70"/>
<line x1="200.40" y1="375.40" x2="200.40" y2="371.40"/>
<line x1="200.40" y1="274.20" x2="200.40" y2="278.20"/>
<line x1="218.40" y1="375.40" x2="218.40" y2="372.90"/>
<line x1="218.40" y1="274.20" x2="218.40" y2="276.70"/>
<line x1="236.40" y1="375.40" x2="236.40" y2="371.40"/>
<line x1="236.40" y1="274.20" x2="236.40" y2="278.20"/>
<line x1="254.40" y1="375.40" x2="254.40" y2="372.90"/>
<line x1="254.40" y1="274.20" x2="254.40" y2="276.70"/>
<line x1="272.40" y1="375.40" x2="272.40" y2="371.40"/>
<line x1="272.40" y1="274.20" x2="272.40" y2="278.20"/>
<line x1="290.40" y1="375.40" x2="290.40" y2="372.90"/>
<line x1="290.40" y1="274.20" x2="290.40" y2="276.70"/>
<line x1="308.40" y1="375.40" x2="308.40" y2="371.40"/>
<line x1="308.40" y1="274.20" x2="308.40" y2="278.20"/>
<line x1="92.40" y1="375.40" x2="96.40" y2="375.40"/>
<line x1="308.40" y1="375.40" x2="304.40" y2="375.40"/>
<line x1="92.40" y1="362.75" x2="94.90" y2="362.75"/>
<line x1="308.40" y1="362.75" x2="305.90" y2="362.75"/>
<line x1="92.40" y1="350.10" x2="96.40" y2="350.10"/>
<line x1="308.40" y1="350.10" x2="304.40" y2="350.10"/>
<line x1="92.40" y1="337.45" x2="94.90" y2="337.45"/>
<line x1="308.40" y1="337.45" x2="305.90" y2="337.45"/>
<line x1="92.40" y1="324.80" x2="96.40" y2="324.80"/>
<line x1="308.40" y1="324.80" x2="304.40" y2="324.80"/>
<line x1="92.40" y1="312.15" x2="94.90" y2="312.15"/>
<line x1="308.40" y1="312.15" x2="305.90" y2="312.15"/>
<line x1="92.40" y1="299.50" x2="96.40" y2="299.50"/>
<line x1="308.40" y1="299.50" x2="304.40" y2="299.50"/>
<line x1="92.40" y1="286.85" x2="94.90" y2="286.85"/>
<line x1="308.40" y1="286.85" x2="305.90" y2="286.85"/>
<line x1="92.40" y1="274.20" x2="96.40" y2="274.20"/>
<line x1="308.40" y1="274.20" x2="304.40" y2="274.20"/>
<rect x="92.40" y="274.20" width="216.00" height="101.20" fill="none"/>
<line x1="318.90" y1="375.40" x2="318.90" y2="371.40"/>
<line x1="318.90" y1="274.20" x2="318.90" y2="278.20"/>
<line x1="336.90" y1="375.40" x2="336.90" y2="372.90"/>
<line x1="336.90" y1="274.20" x2="336.90" y2="276.70"/>
<line x1="354.90" y1="375.40" x2="354.90" y2="371.40"/>
<line x1="354.90" y1="274.20" x2="354.90" y2="278.20"/>
<line x1="372.90" y1="375.40" x2="372.90" y2="372.90"/>
<line x1="372.90" y1="274.20" x2="372.90" y2="276.70"/>
<line x1="390.90" y1="375.40" x2="390.90" y2="371.40"/>
<line x1="390.90" y1="274.20" x2="390.90" y2="278.20"/>
<line x1="408.90" y1="375.40" x2="408.90" y2="372.90"/>
<line x1="408.90" y1="274.20" x2="408.90" y2="276.70"/>
<line x1="426.90" y1="375.40" x2="426.90" y2="371.40"/>
<line x1="426.90" y1="274.20" x2="426.90" y2="278.20"/>
<line x1="444.90" y1="375.40" x2="444.90" y2="372.90"/>
<line x1="444.90" y1="274.20" x2="444.90" y2="276.70"/>
<line x1="462.90" y1="375.40" x2="462.90" y2="371.40"/>
<line x1="462.90" y1="274.20" x2="462.90" y2="278.20"/>
<line x1="480.90" y1="375.40" x2="480.90" y2="372.90"/>
<line x1="480.90" y1="274.20" x2="480.90" y2="276.70"/>
<line x1="498.90" y1="375.40" x2="498.90" y2="371.40"/>
<line x1="498.90" y1="274.20" x2="498.90" y2="278.20"/>
<line x1="516.90" y1="375.40" x2="516.90" y2="372.90"/>
<line x1="516.90" y1="274.20" x2="516.90" y2="276.70"/>
<line x1="534.90" y1="375.40" x2="534.90" y2="371.40"/>
<line x1="534.90" y1="274.20" x2="534.90" y2="278.20"/>
<line x1="318.90" y1="375.40" x2="322.90" y2="375.40"/>
<line x1="534.90" y1="375.40" x2="530.90" y2="375.40"/>
<line x1="318.90" y1="362.75" x2="321.40" y2="362.75"/>
<line x1="534.90" y1="362.75" x2="532.40" y2="362.75"/>
<line x1="318.90" y1="350.10" x2="322.90" y2="350.10"/>
<line x1="534.90" y1="350.10" x2="530.90" y2="350.10"/>
<line x1="318.90" y1="337.45" x2="321.40" y2="337.45"/>
<line x1="534.90" y1="337.45" x2="532.40" y2="337.45"/>
<line x1="318.90" y1="324.80" x2="322.90" y2="324.80"/>
<line x1="534.90" y1="324.80" x2="530.90" y2="324.80"/>
<line x1="318.90" y1="312.15" x2="321.40" y2="312.15"/>
<line x1="534.90" y1="312.15" x2="532.40" y2="312.15"/>
<line x1="318.90" y1="299.50" x2="322.90" y2="299.50"/>
<line x1="534.90" y1="299.50" x2="530.90" y2="299.50"/>
<line x1="318.90" y1="286.85" x2="321.40" y2="286.85"/>
<line x1="534.90" y1="286.85" x2="532.40" y2="286.85"/>
<line x1="318.90" y1="274.20" x2="322.90" y2="274.20"/>
<line x1="534.90" y1="274.20" x2="530.90" y2="274.20"/>
<rect x="318.90" y="274.20" width="216.00" height="101.20" fill="none"/>
</g>
<g style="filter:grayscale(1)">
<text x="80.1" y="50.50" text-anchor="end" font-size="11.75" fill="#222" font-family="Liberation Sans, sans-serif">2.0x10</text>
<text x="80.4" y="45.80" font-family="Liberation Sans, sans-serif" font-size="7" fill="#222">-4</text>
<text x="80.1" y="75.80" text-anchor="end" font-size="11.75" fill="#222" font-family="Liberation Sans, sans-serif">1.0x10</text>
<text x="80.4" y="71.10" font-family="Liberation Sans, sans-serif" font-size="7" fill="#222">-4</text>
<text x="87.3" y="101.10" text-anchor="end" font-size="11.75" fill="#222" font-family="Liberation Sans, sans-serif">0.0</text>
<text x="80.1" y="126.40" text-anchor="end" font-size="11.75" fill="#222" font-family="Liberation Sans, sans-serif">-1.0x10</text>
<text x="80.4" y="121.70" font-family="Liberation Sans, sans-serif" font-size="7" fill="#222">-4</text>
<text x="80.1" y="151.70" text-anchor="end" font-size="11.75" fill="#222" font-family="Liberation Sans, sans-serif">-2.0x10</text>
<text x="80.4" y="147.00" font-family="Liberation Sans, sans-serif" font-size="7" fill="#222">-4</text>
<text x="80.1" y="164.50" text-anchor="end" font-size="11.75" fill="#222" font-family="Liberation Sans, sans-serif">2.0x10</text>
<text x="80.4" y="159.80" font-family="Liberation Sans, sans-serif" font-size="7" fill="#222">-4</text>
<text x="80.1" y="189.80" text-anchor="end" font-size="11.75" fill="#222" font-family="Liberation Sans, sans-serif">1.0x10</text>
<text x="80.4" y="185.10" font-family="Liberation Sans, sans-serif" font-size="7" fill="#222">-4</text>
<text x="87.3" y="215.10" text-anchor="end" font-size="11.75" fill="#222" font-family="Liberation Sans, sans-serif">0.0</text>
<text x="80.1" y="240.40" text-anchor="end" font-size="11.75" fill="#222" font-family="Liberation Sans, sans-serif">-1.0x10</text>
<text x="80.4" y="235.70" font-family="Liberation Sans, sans-serif" font-size="7" fill="#222">-4</text>
<text x="80.1" y="265.70" text-anchor="end" font-size="11.75" fill="#222" font-family="Liberation Sans, sans-serif">-2.0x10</text>
<text x="80.4" y="261.00" font-family="Liberation Sans, sans-serif" font-size="7" fill="#222">-4</text>
<text x="80.1" y="278.30" text-anchor="end" font-size="11.75" fill="#222" font-family="Liberation Sans, sans-serif">2.0x10</text>
<text x="80.4" y="273.60" font-family="Liberation Sans, sans-serif" font-size="7" fill="#222">-4</text>
<text x="80.1" y="303.60" text-anchor="end" font-size="11.75" fill="#222" font-family="Liberation Sans, sans-serif">1.0x10</text>
<text x="80.4" y="298.90" font-family="Liberation Sans, sans-serif" font-size="7" fill="#222">-4</text>
<text x="87.3" y="328.90" text-anchor="end" font-size="11.75" fill="#222" font-family="Liberation Sans, sans-serif">0.0</text>
<text x="80.1" y="354.20" text-anchor="end" font-size="11.75" fill="#222" font-family="Liberation Sans, sans-serif">-1.0x10</text>
<text x="80.4" y="349.50" font-family="Liberation Sans, sans-serif" font-size="7" fill="#222">-4</text>
<text x="80.1" y="379.50" text-anchor="end" font-size="11.75" fill="#222" font-family="Liberation Sans, sans-serif">-2.0x10</text>
<text x="80.4" y="374.80" font-family="Liberation Sans, sans-serif" font-size="7" fill="#222">-4</text>
<text x="88.80" y="389.6" text-anchor="middle" font-size="12" letter-spacing="0.2" fill="#222" font-family="Liberation Sans, sans-serif">0</text>
<text x="124.80" y="389.6" text-anchor="middle" font-size="12" letter-spacing="0.2" fill="#222" font-family="Liberation Sans, sans-serif">4</text>
<text x="160.80" y="389.6" text-anchor="middle" font-size="12" letter-spacing="0.2" fill="#222" font-family="Liberation Sans, sans-serif">8</text>
<text x="196.80" y="389.6" text-anchor="middle" font-size="12" letter-spacing="0.2" fill="#222" font-family="Liberation Sans, sans-serif">12</text>
<text x="232.80" y="389.6" text-anchor="middle" font-size="12" letter-spacing="0.2" fill="#222" font-family="Liberation Sans, sans-serif">16</text>
<text x="268.80" y="389.6" text-anchor="middle" font-size="12" letter-spacing="0.2" fill="#222" font-family="Liberation Sans, sans-serif">20</text>
<text x="304.80" y="389.6" text-anchor="middle" font-size="12" letter-spacing="0.2" fill="#222" font-family="Liberation Sans, sans-serif">24</text>
<text x="315.30" y="389.6" text-anchor="middle" font-size="12" letter-spacing="0.2" fill="#222" font-family="Liberation Sans, sans-serif">0</text>
<text x="351.30" y="389.6" text-anchor="middle" font-size="12" letter-spacing="0.2" fill="#222" font-family="Liberation Sans, sans-serif">4</text>
<text x="387.30" y="389.6" text-anchor="middle" font-size="12" letter-spacing="0.2" fill="#222" font-family="Liberation Sans, sans-serif">8</text>
<text x="423.30" y="389.6" text-anchor="middle" font-size="12" letter-spacing="0.2" fill="#222" font-family="Liberation Sans, sans-serif">12</text>
<text x="459.30" y="389.6" text-anchor="middle" font-size="12" letter-spacing="0.2" fill="#222" font-family="Liberation Sans, sans-serif">16</text>
<text x="495.30" y="389.6" text-anchor="middle" font-size="12" letter-spacing="0.2" fill="#222" font-family="Liberation Sans, sans-serif">20</text>
<text x="531.30" y="389.6" text-anchor="middle" font-size="12" letter-spacing="0.2" fill="#222" font-family="Liberation Sans, sans-serif">24</text>
<text x="199.9" y="412.2" text-anchor="middle" font-size="13" letter-spacing="0.3" fill="#222" font-family="Liberation Sans, sans-serif">GPS Time (h)</text>
<text x="423.7" y="412.2" text-anchor="middle" font-size="13" letter-spacing="0.3" fill="#222" font-family="Liberation Sans, sans-serif">GPS Time (h)</text>
<text transform="translate(35.6,89.40) rotate(-90)" text-anchor="middle" font-size="11.2" fill="#222" font-family="Liberation Sans, sans-serif">X</text>
<text transform="translate(35.6,202.40) rotate(-90)" text-anchor="middle" font-size="11.2" fill="#222" font-family="Liberation Sans, sans-serif">Y</text>
<text transform="translate(35.6,317.40) rotate(-90)" text-anchor="middle" font-size="11.2" fill="#222" font-family="Liberation Sans, sans-serif">Z</text>
<text transform="translate(21.8,209.3) rotate(-90)" text-anchor="middle" font-size="13" letter-spacing="0.17" fill="#222" font-family="Liberation Sans, sans-serif">Differences of the unit vectors in adjacent epochs</text>
<text x="306.2" y="36.7" text-anchor="end" font-size="11.5" fill="#222" font-family="Liberation Sans, sans-serif">HUAD</text>
<text x="536.3" y="37.7" text-anchor="end" font-size="12.2" fill="#222" font-family="Liberation Sans, sans-serif">SHAT</text>
</g>
<rect x="91.6" y="5.3" width="165.3" height="36.3" fill="#fff" stroke="#555" stroke-width="1.1"/>
<rect x="98.6" y="13" width="6" height="6" fill="#00f000"/>
<rect x="182.8" y="12.9" width="5.7" height="6" fill="#3c00f8"/>
<rect x="98.6" y="31.5" width="6" height="6" fill="#ffec00"/>
<rect x="182.8" y="31" width="5.7" height="6" fill="#f80000"/>
<g style="filter:grayscale(1)">
<text x="111.3" y="19" font-size="13.3" fill="#222" font-family="Liberation Sans, sans-serif">GPS</text>
<text x="193.6" y="19" font-size="13.3" fill="#222" font-family="Liberation Sans, sans-serif">BDS GEO</text>
<text x="111.3" y="37.5" font-size="13.3" fill="#222" font-family="Liberation Sans, sans-serif">BDS IGSO</text>
<text x="193.6" y="37.5" font-size="13.3" fill="#222" font-family="Liberation Sans, sans-serif">BDS MEO</text>
</g>
</svg></body></html>
